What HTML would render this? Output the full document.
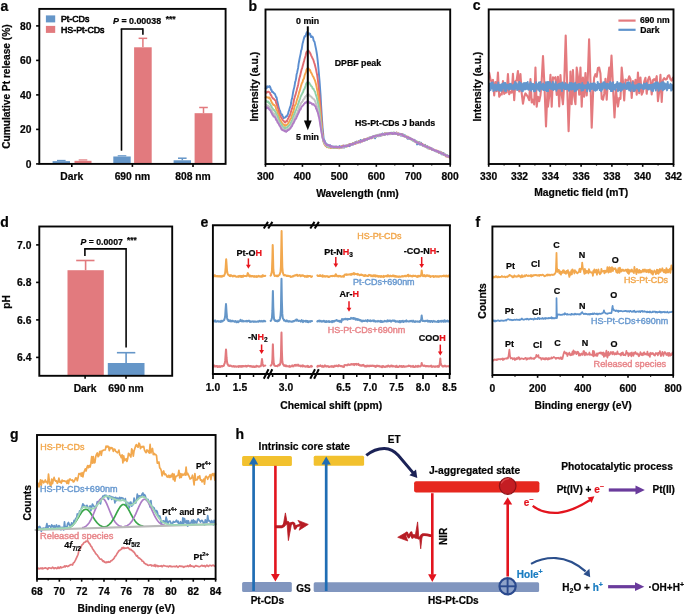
<!DOCTYPE html>
<html><head><meta charset="utf-8"><style>
html,body{margin:0;padding:0;background:#fff;width:685px;height:614px;overflow:hidden;position:relative;font-family:"Liberation Sans", sans-serif;}
svg{will-change:transform;}
</style></head><body>
<svg width="685" height="614" viewBox="0 0 685 614" style="position:absolute;left:0;top:0">
<g font-family='"Liberation Sans", sans-serif'>
<text x="0.50" y="10.50" font-size="14" font-weight="bold" fill="#050505"  stroke="#050505" stroke-width="0.22">a</text>
<rect x="52.60" y="161.14" width="17.40" height="2.76" fill="#6596c8" rx="0" />
<rect x="74.50" y="160.80" width="17.00" height="3.10" fill="#e27a7e" rx="0" />
<rect x="113.30" y="156.48" width="17.40" height="7.42" fill="#6596c8" rx="0" />
<rect x="134.10" y="47.29" width="17.60" height="116.61" fill="#e27a7e" rx="0" />
<line x1="142.90" y1="47.29" x2="142.90" y2="38.32" stroke="#e27a7e" stroke-width="1.5" stroke-linecap="butt"/>
<line x1="138.60" y1="38.32" x2="147.20" y2="38.32" stroke="#e27a7e" stroke-width="1.5" stroke-linecap="butt"/>
<rect x="173.60" y="160.28" width="17.40" height="3.62" fill="#6596c8" rx="0" />
<line x1="182.30" y1="160.28" x2="182.30" y2="158.21" stroke="#6596c8" stroke-width="1.5" stroke-linecap="butt"/>
<line x1="178.00" y1="158.21" x2="186.60" y2="158.21" stroke="#6596c8" stroke-width="1.5" stroke-linecap="butt"/>
<rect x="194.60" y="113.19" width="17.80" height="50.72" fill="#e27a7e" rx="0" />
<line x1="203.50" y1="113.19" x2="203.50" y2="107.49" stroke="#e27a7e" stroke-width="1.5" stroke-linecap="butt"/>
<line x1="199.20" y1="107.49" x2="207.80" y2="107.49" stroke="#e27a7e" stroke-width="1.5" stroke-linecap="butt"/>
<line x1="57.00" y1="160.45" x2="65.60" y2="160.45" stroke="#6596c8" stroke-width="1.2" stroke-linecap="butt"/>
<line x1="78.70" y1="159.93" x2="87.30" y2="159.93" stroke="#e27a7e" stroke-width="1.2" stroke-linecap="butt"/>
<line x1="117.70" y1="155.79" x2="126.30" y2="155.79" stroke="#6596c8" stroke-width="1.2" stroke-linecap="butt"/>
<rect x="39.30" y="8.90" width="186.30" height="155.00" fill="none" stroke="#050505" stroke-width="1.9"/>
<line x1="36.10" y1="163.90" x2="39.30" y2="163.90" stroke="#050505" stroke-width="1.6" stroke-linecap="butt"/>
<text x="31.40" y="167.70" font-size="10.3" font-weight="bold" fill="#050505" text-anchor="end"  stroke="#050505" stroke-width="0.22">0</text>
<line x1="36.10" y1="129.40" x2="39.30" y2="129.40" stroke="#050505" stroke-width="1.6" stroke-linecap="butt"/>
<text x="31.40" y="133.20" font-size="10.3" font-weight="bold" fill="#050505" text-anchor="end"  stroke="#050505" stroke-width="0.22">20</text>
<line x1="36.10" y1="94.90" x2="39.30" y2="94.90" stroke="#050505" stroke-width="1.6" stroke-linecap="butt"/>
<text x="31.40" y="98.70" font-size="10.3" font-weight="bold" fill="#050505" text-anchor="end"  stroke="#050505" stroke-width="0.22">40</text>
<line x1="36.10" y1="60.40" x2="39.30" y2="60.40" stroke="#050505" stroke-width="1.6" stroke-linecap="butt"/>
<text x="31.40" y="64.20" font-size="10.3" font-weight="bold" fill="#050505" text-anchor="end"  stroke="#050505" stroke-width="0.22">60</text>
<line x1="36.10" y1="25.90" x2="39.30" y2="25.90" stroke="#050505" stroke-width="1.6" stroke-linecap="butt"/>
<text x="31.40" y="29.70" font-size="10.3" font-weight="bold" fill="#050505" text-anchor="end"  stroke="#050505" stroke-width="0.22">80</text>
<line x1="71.80" y1="163.90" x2="71.80" y2="166.90" stroke="#050505" stroke-width="1.6" stroke-linecap="butt"/>
<text x="71.80" y="179.80" font-size="10.3" font-weight="bold" fill="#050505" text-anchor="middle"  stroke="#050505" stroke-width="0.22">Dark</text>
<line x1="132.40" y1="163.90" x2="132.40" y2="166.90" stroke="#050505" stroke-width="1.6" stroke-linecap="butt"/>
<text x="132.40" y="179.80" font-size="10.3" font-weight="bold" fill="#050505" text-anchor="middle"  stroke="#050505" stroke-width="0.22">690 nm</text>
<line x1="193.00" y1="163.90" x2="193.00" y2="166.90" stroke="#050505" stroke-width="1.6" stroke-linecap="butt"/>
<text x="193.00" y="179.80" font-size="10.3" font-weight="bold" fill="#050505" text-anchor="middle"  stroke="#050505" stroke-width="0.22">808 nm</text>
<text x="9.80" y="86.60" font-size="10.2" font-weight="bold" fill="#050505" text-anchor="middle" transform="rotate(-90 9.80 86.60)"  stroke="#050505" stroke-width="0.22">Cumulative Pt release (%)</text>
<rect x="45.90" y="15.40" width="9.30" height="7.00" fill="#6596c8" rx="0" />
<rect x="45.90" y="25.90" width="9.30" height="7.00" fill="#e27a7e" rx="0" />
<text x="61.00" y="22.40" font-size="8.8" font-weight="normal" fill="#050505" stroke="#050505" stroke-width="0.6" >Pt-CDs</text>
<text x="61.00" y="32.80" font-size="8.8" font-weight="normal" fill="#050505" stroke="#050505" stroke-width="0.6" >HS-Pt-CDs</text>
<line x1="121.50" y1="150.70" x2="121.50" y2="29.00" stroke="#050505" stroke-width="1.6" stroke-linecap="butt"/>
<line x1="120.70" y1="29.00" x2="142.90" y2="29.00" stroke="#050505" stroke-width="1.6" stroke-linecap="butt"/>
<line x1="142.90" y1="28.20" x2="142.90" y2="34.70" stroke="#050505" stroke-width="1.6" stroke-linecap="butt"/>
<text x="113.0" y="23.6" font-size="8.9" font-weight="bold" fill="#050505" stroke="#050505" stroke-width="0.22"><tspan font-style="italic">P</tspan> = 0.00038<tspan font-size="8.6" dy="-1.6" dx="4.5">***</tspan></text>
<text x="248.60" y="10.70" font-size="14" font-weight="bold" fill="#050505"  stroke="#050505" stroke-width="0.22">b</text>
<polyline points="265.60,88.27 266.10,87.42 266.60,88.17 267.10,86.28 267.60,87.27 268.10,86.49 268.60,86.68 269.10,87.19 269.60,86.08 270.10,86.85 270.60,88.13 271.10,90.07 271.60,89.96 272.10,92.01 272.60,91.70 273.10,92.17 273.60,92.87 274.10,93.57 274.60,93.48 275.10,94.36 275.60,95.74 276.10,97.10 276.60,97.35 277.10,100.39 277.60,102.40 278.10,104.74 278.60,107.15 279.10,108.62 279.60,110.23 280.10,110.92 280.60,112.50 281.10,113.83 281.60,114.92 282.10,114.44 282.60,115.83 283.10,116.88 283.60,118.13 284.10,117.74 284.60,117.58 285.10,117.46 285.60,117.12 286.10,116.30 286.60,116.55 287.10,115.86 287.60,114.63 288.10,113.69 288.60,111.37 289.10,110.43 289.60,108.44 290.10,106.99 290.60,105.83 291.10,103.03 291.60,99.72 292.10,98.31 292.60,95.44 293.10,92.23 293.60,89.76 294.10,87.87 294.60,85.81 295.10,82.08 295.60,80.71 296.10,78.35 296.60,74.33 297.10,72.79 297.60,70.13 298.10,67.96 298.60,63.83 299.10,61.30 299.60,58.52 300.10,56.08 300.60,53.85 301.10,50.52 301.60,49.60 302.10,46.64 302.60,43.45 303.10,41.91 303.60,39.58 304.10,38.12 304.60,36.18 305.10,36.55 305.60,36.15 306.10,34.08 306.60,32.79 307.10,31.91 307.60,32.90 308.10,34.70 308.60,34.12 309.10,33.31 309.60,34.42 310.10,33.74 310.60,35.71 311.10,37.13 311.60,36.26 312.10,37.08 312.60,36.81 313.10,37.95 313.60,40.53 314.10,41.29 314.60,42.09 315.10,44.57 315.60,46.93 316.10,49.39 316.60,52.22 317.10,55.32 317.60,59.81 318.10,64.53 318.60,70.15 319.10,75.96 319.60,81.64 320.10,88.66 320.60,95.46 321.10,104.97 321.60,113.06 322.10,120.91 322.60,127.82 323.10,132.75 323.60,138.07 324.10,140.51 324.60,140.36 325.10,142.39 325.60,143.88 326.10,143.21 326.60,145.47 327.10,144.63 327.60,144.54 328.10,146.30 328.60,145.92 329.10,145.57 329.60,146.68 330.10,145.15 330.60,147.55 331.10,146.08 331.60,146.84 332.10,146.51 332.60,147.09 333.10,147.44 333.60,146.46 334.10,147.47 334.60,146.86 335.10,146.66 335.60,146.98 336.10,146.54 336.60,146.69 337.10,147.76 337.60,147.12 338.10,147.91 338.60,147.47 339.10,146.59 339.60,146.06 340.10,146.74 340.60,147.26 341.10,147.05 341.60,146.45 342.10,147.47 342.60,145.71 343.10,145.89 343.60,146.61 344.10,147.73 344.60,146.54 345.10,145.57 345.60,146.41 346.10,146.35 346.60,146.37 347.10,145.43 347.60,145.05 348.10,145.45 348.60,145.48 349.10,146.04 349.60,146.18 350.10,144.33 350.60,144.29 351.10,144.41 351.60,144.14 352.10,144.42 352.60,144.26 353.10,143.96 353.60,144.44 354.10,143.38 354.60,142.68 355.10,142.21 355.60,142.36 356.10,142.18 356.60,141.51 357.10,142.88 357.60,142.42 358.10,141.89 358.60,141.44 359.10,140.86 359.60,141.08 360.10,142.57 360.60,139.96 361.10,141.20 361.60,141.39 362.10,140.85 362.60,140.40 363.10,140.87 363.60,139.57 364.10,140.39 364.60,140.73 365.10,139.07 365.60,139.03 366.10,139.42 366.60,139.76 367.10,139.79 367.60,139.22 368.10,138.24 368.60,137.80 369.10,138.45 369.60,138.37 370.10,137.31 370.60,137.84 371.10,137.84 371.60,138.10 372.10,136.72 372.60,137.48 373.10,136.28 373.60,136.57 374.10,136.62 374.60,137.41 375.10,138.33 375.60,136.35 376.10,136.35 376.60,136.50 377.10,134.93 377.60,136.07 378.10,134.74 378.60,136.33 379.10,136.10 379.60,135.40 380.10,134.49 380.60,135.87 381.10,134.91 381.60,134.71 382.10,134.88 382.60,133.40 383.10,134.58 383.60,134.82 384.10,134.33 384.60,134.12 385.10,133.36 385.60,134.22 386.10,133.88 386.60,133.69 387.10,133.27 387.60,134.05 388.10,134.21 388.60,133.63 389.10,133.90 389.60,134.11 390.10,134.23 390.60,133.37 391.10,133.07 391.60,132.95 392.10,133.21 392.60,133.53 393.10,133.76 393.60,132.96 394.10,133.35 394.60,132.70 395.10,134.10 395.60,133.15 396.10,133.68 396.60,133.12 397.10,133.45 397.60,133.31 398.10,134.85 398.60,134.17 399.10,133.98 399.60,133.63 400.10,133.97 400.60,134.84 401.10,135.67 401.60,133.97 402.10,134.45 402.60,135.07 403.10,135.01 403.60,134.60 404.10,135.81 404.60,136.46 405.10,135.27 405.60,136.57 406.10,137.26 406.60,137.49 407.10,136.88 407.60,138.75 408.10,137.93 408.60,137.35 409.10,138.67 409.60,137.64 410.10,139.09 410.60,138.04 411.10,139.52 411.60,138.95 412.10,140.22 412.60,140.24 413.10,140.33 413.60,140.36 414.10,141.25 414.60,139.78 415.10,141.39 415.60,141.65 416.10,142.00 416.60,142.43 417.10,144.43 417.60,142.54 418.10,143.21 418.60,143.07 419.10,144.18 419.60,142.28 420.10,144.77 420.60,143.58 421.10,142.87 421.60,143.82 422.10,144.60 422.60,145.06 423.10,145.15 423.60,145.90 424.10,145.62 424.60,145.84 425.10,144.82 425.60,146.63 426.10,147.17 426.60,146.53 427.10,145.89 427.60,146.43 428.10,148.46 428.60,147.32 429.10,147.50 429.60,147.63 430.10,148.75 430.60,148.20 431.10,148.25 431.60,148.08 432.10,149.13 432.60,150.01 433.10,149.52 433.60,150.35 434.10,150.13 434.60,150.32 435.10,150.54 435.60,150.66 436.10,151.46 436.60,151.34 437.10,150.91 437.60,151.54 438.10,151.64 438.60,152.19 439.10,152.22 439.60,152.58 440.10,151.66 440.60,153.00 441.10,153.79 441.60,152.42 442.10,154.42 442.60,153.87 443.10,153.80 443.60,153.08 444.10,155.05 444.60,154.05 445.10,154.56 445.60,155.43 446.10,154.73 446.60,154.99 447.10,155.13 447.60,155.99 448.10,156.65 448.60,156.78 449.10,157.02 449.60,156.81 450.10,157.34" fill="none" stroke="#5b8ed0" stroke-width="1.9" stroke-linejoin="round" stroke-linecap="round" />
<polyline points="265.60,91.82 266.10,92.23 266.60,92.69 267.10,92.29 267.60,91.84 268.10,91.62 268.60,91.61 269.10,92.24 269.60,92.41 270.10,93.13 270.60,95.05 271.10,94.96 271.60,96.21 272.10,97.14 272.60,97.97 273.10,98.49 273.60,98.62 274.10,99.31 274.60,99.77 275.10,100.23 275.60,100.49 276.10,102.95 276.60,103.87 277.10,105.51 277.60,107.27 278.10,108.49 278.60,110.31 279.10,112.62 279.60,114.20 280.10,115.68 280.60,116.22 281.10,117.36 281.60,117.89 282.10,118.97 282.60,119.90 283.10,120.42 283.60,120.64 284.10,121.66 284.60,122.16 285.10,122.61 285.60,121.89 286.10,121.35 286.60,120.68 287.10,121.22 287.60,119.47 288.10,118.55 288.60,117.93 289.10,116.30 289.60,116.19 290.10,114.62 290.60,113.34 291.10,111.28 291.60,109.77 292.10,108.43 292.60,106.47 293.10,105.02 293.60,102.22 294.10,99.05 294.60,97.79 295.10,95.84 295.60,94.62 296.10,92.41 296.60,90.75 297.10,88.56 297.60,86.87 298.10,85.03 298.60,82.08 299.10,79.34 299.60,77.44 300.10,76.08 300.60,73.50 301.10,71.42 301.60,69.40 302.10,68.37 302.60,66.35 303.10,64.41 303.60,62.42 304.10,60.76 304.60,58.83 305.10,57.28 305.60,55.78 306.10,53.07 306.60,51.89 307.10,51.36 307.60,50.88 308.10,50.28 308.60,50.87 309.10,51.47 309.60,52.16 310.10,52.97 310.60,54.01 311.10,55.35 311.60,56.38 312.10,57.45 312.60,58.46 313.10,59.29 313.60,60.71 314.10,62.53 314.60,63.85 315.10,65.82 315.60,67.65 316.10,69.92 316.60,72.62 317.10,74.70 317.60,78.33 318.10,81.84 318.60,86.83 319.10,91.26 319.60,96.72 320.10,101.77 320.60,108.11 321.10,115.17 321.60,121.58 322.10,127.92 322.60,133.95 323.10,138.77 323.60,141.25 324.10,143.13 324.60,144.05 325.10,144.61 325.60,145.60 326.10,146.17 326.60,146.09 327.10,147.17 327.60,146.55 328.10,147.23 328.60,147.22 329.10,146.59 329.60,147.26 330.10,146.78 330.60,147.34 331.10,147.64 331.60,148.06 332.10,147.69 332.60,146.89 333.10,147.31 333.60,147.94 334.10,147.47 334.60,148.02 335.10,147.14 335.60,147.19 336.10,146.91 336.60,147.24 337.10,147.81 337.60,147.04 338.10,147.64 338.60,147.49 339.10,147.58 339.60,147.19 340.10,147.22 340.60,147.90 341.10,146.64 341.60,147.25 342.10,147.42 342.60,146.94 343.10,147.24 343.60,145.50 344.10,146.31 344.60,145.88 345.10,146.02 345.60,146.00 346.10,146.09 346.60,145.49 347.10,145.96 347.60,144.95 348.10,145.69 348.60,145.12 349.10,144.43 349.60,144.27 350.10,144.11 350.60,144.23 351.10,144.45 351.60,144.71 352.10,144.37 352.60,143.46 353.10,142.96 353.60,143.49 354.10,142.93 354.60,143.21 355.10,142.86 355.60,143.83 356.10,142.16 356.60,142.71 357.10,143.08 357.60,142.12 358.10,141.82 358.60,142.51 359.10,141.01 359.60,140.99 360.10,140.99 360.60,141.38 361.10,141.34 361.60,140.85 362.10,141.48 362.60,140.47 363.10,140.36 363.60,140.08 364.10,140.44 364.60,139.83 365.10,139.51 365.60,140.07 366.10,139.76 366.60,139.48 367.10,138.50 367.60,138.40 368.10,138.52 368.60,138.35 369.10,138.12 369.60,138.02 370.10,138.16 370.60,137.42 371.10,137.70 371.60,137.31 372.10,137.11 372.60,137.02 373.10,137.22 373.60,136.90 374.10,136.36 374.60,136.60 375.10,136.37 375.60,136.32 376.10,135.94 376.60,136.24 377.10,135.87 377.60,135.19 378.10,135.02 378.60,134.85 379.10,135.36 379.60,134.85 380.10,134.85 380.60,134.83 381.10,135.18 381.60,135.41 382.10,134.49 382.60,135.12 383.10,134.51 383.60,134.65 384.10,134.03 384.60,133.59 385.10,134.10 385.60,134.29 386.10,133.21 386.60,133.66 387.10,133.69 387.60,133.74 388.10,133.07 388.60,133.20 389.10,133.68 389.60,133.95 390.10,133.31 390.60,133.58 391.10,133.26 391.60,133.35 392.10,133.06 392.60,133.12 393.10,133.00 393.60,133.25 394.10,133.64 394.60,133.36 395.10,133.57 395.60,133.15 396.10,133.72 396.60,132.44 397.10,133.13 397.60,133.60 398.10,133.19 398.60,134.15 399.10,134.15 399.60,133.88 400.10,134.36 400.60,133.97 401.10,134.34 401.60,134.69 402.10,134.43 402.60,135.54 403.10,135.15 403.60,135.95 404.10,135.74 404.60,136.11 405.10,135.90 405.60,136.34 406.10,136.53 406.60,136.99 407.10,137.62 407.60,137.17 408.10,137.54 408.60,137.96 409.10,138.38 409.60,138.27 410.10,138.41 410.60,138.59 411.10,139.05 411.60,139.38 412.10,139.30 412.60,139.69 413.10,140.33 413.60,140.32 414.10,140.39 414.60,141.11 415.10,141.38 415.60,141.61 416.10,141.90 416.60,141.80 417.10,142.28 417.60,142.58 418.10,142.77 418.60,142.37 419.10,143.23 419.60,143.62 420.10,143.92 420.60,143.88 421.10,144.24 421.60,143.84 422.10,144.19 422.60,143.91 423.10,145.10 423.60,145.98 424.10,146.26 424.60,145.48 425.10,146.34 425.60,146.77 426.10,146.45 426.60,146.10 427.10,147.51 427.60,147.11 428.10,147.32 428.60,148.28 429.10,148.07 429.60,148.42 430.10,148.91 430.60,148.51 431.10,148.43 431.60,149.26 432.10,149.20 432.60,149.67 433.10,149.76 433.60,149.56 434.10,150.04 434.60,150.12 435.10,150.36 435.60,150.64 436.10,150.98 436.60,151.14 437.10,150.83 437.60,151.70 438.10,151.19 438.60,152.69 439.10,151.86 439.60,152.32 440.10,153.03 440.60,152.72 441.10,152.57 441.60,152.75 442.10,153.58 442.60,153.85 443.10,154.23 443.60,154.27 444.10,154.24 444.60,154.81 445.10,155.39 445.60,154.84 446.10,156.61 446.60,155.45 447.10,156.27 447.60,156.74 448.10,156.63 448.60,156.66 449.10,157.04 449.60,157.50 450.10,156.34" fill="none" stroke="#e06a70" stroke-width="1.9" stroke-linejoin="round" stroke-linecap="round" />
<polyline points="265.60,97.48 266.10,97.18 266.60,97.07 267.10,97.38 267.60,97.45 268.10,97.62 268.60,97.37 269.10,98.23 269.60,97.56 270.10,98.73 270.60,99.56 271.10,101.05 271.60,101.92 272.10,103.19 272.60,103.45 273.10,104.77 273.60,105.01 274.10,104.97 274.60,105.09 275.10,105.94 275.60,106.71 276.10,108.81 276.60,109.96 277.10,110.62 277.60,113.13 278.10,113.80 278.60,114.56 279.10,117.39 279.60,118.91 280.10,119.57 280.60,120.16 281.10,121.78 281.60,121.94 282.10,122.87 282.60,123.71 283.10,124.28 283.60,124.59 284.10,124.89 284.60,125.85 285.10,124.95 285.60,125.67 286.10,125.38 286.60,125.19 287.10,124.46 287.60,124.13 288.10,123.70 288.60,122.34 289.10,121.93 289.60,121.19 290.10,119.66 290.60,118.69 291.10,118.38 291.60,116.86 292.10,114.79 292.60,113.74 293.10,111.95 293.60,110.59 294.10,108.84 294.60,106.06 295.10,105.39 295.60,104.59 296.10,103.26 296.60,100.98 297.10,99.23 297.60,98.12 298.10,96.06 298.60,94.48 299.10,92.26 299.60,91.15 300.10,89.30 300.60,87.63 301.10,85.60 301.60,83.98 302.10,82.76 302.60,81.99 303.10,79.74 303.60,79.10 304.10,77.99 304.60,75.56 305.10,74.07 305.60,72.88 306.10,71.34 306.60,69.47 307.10,68.63 307.60,68.21 308.10,68.09 308.60,68.71 309.10,69.17 309.60,70.22 310.10,69.96 310.60,71.84 311.10,72.65 311.60,73.30 312.10,74.50 312.60,75.68 313.10,76.44 313.60,77.33 314.10,78.67 314.60,79.59 315.10,80.81 315.60,82.64 316.10,84.57 316.60,86.99 317.10,89.47 317.60,91.81 318.10,95.15 318.60,98.13 319.10,101.89 319.60,106.08 320.10,110.43 320.60,115.54 321.10,121.71 321.60,126.22 322.10,131.83 322.60,136.22 323.10,140.06 323.60,141.86 324.10,143.70 324.60,144.20 325.10,145.26 325.60,144.89 326.10,146.19 326.60,146.60 327.10,146.02 327.60,147.06 328.10,146.53 328.60,147.40 329.10,147.16 329.60,147.49 330.10,147.46 330.60,146.96 331.10,147.96 331.60,147.86 332.10,147.09 332.60,147.65 333.10,147.61 333.60,147.20 334.10,147.07 334.60,147.88 335.10,147.29 335.60,147.74 336.10,148.09 336.60,147.59 337.10,147.10 337.60,147.75 338.10,146.92 338.60,147.06 339.10,148.37 339.60,147.05 340.10,147.38 340.60,146.83 341.10,147.09 341.60,147.10 342.10,146.01 342.60,146.60 343.10,146.94 343.60,146.89 344.10,146.58 344.60,146.01 345.10,146.36 345.60,145.93 346.10,145.71 346.60,145.84 347.10,146.50 347.60,145.25 348.10,145.78 348.60,145.35 349.10,144.59 349.60,144.63 350.10,144.74 350.60,144.47 351.10,144.57 351.60,143.97 352.10,143.80 352.60,144.34 353.10,143.81 353.60,143.36 354.10,143.50 354.60,143.97 355.10,142.96 355.60,142.48 356.10,143.16 356.60,143.35 357.10,142.94 357.60,141.87 358.10,141.44 358.60,142.43 359.10,141.76 359.60,141.83 360.10,141.42 360.60,141.89 361.10,141.16 361.60,140.85 362.10,140.83 362.60,140.18 363.10,140.48 363.60,140.21 364.10,139.32 364.60,139.48 365.10,139.27 365.60,138.98 366.10,139.47 366.60,139.57 367.10,139.10 367.60,138.30 368.10,138.02 368.60,138.75 369.10,138.20 369.60,138.10 370.10,137.51 370.60,137.09 371.10,138.41 371.60,137.26 372.10,137.24 372.60,136.74 373.10,137.52 373.60,136.70 374.10,136.60 374.60,136.51 375.10,136.34 375.60,136.69 376.10,135.40 376.60,136.11 377.10,135.53 377.60,135.46 378.10,135.26 378.60,135.50 379.10,134.77 379.60,134.90 380.10,135.16 380.60,134.66 381.10,134.58 381.60,134.77 382.10,134.56 382.60,134.30 383.10,134.33 383.60,133.90 384.10,134.42 384.60,133.64 385.10,133.36 385.60,133.97 386.10,133.29 386.60,133.34 387.10,133.52 387.60,133.77 388.10,133.27 388.60,133.23 389.10,133.19 389.60,133.43 390.10,133.08 390.60,133.30 391.10,133.65 391.60,133.10 392.10,133.05 392.60,132.85 393.10,132.91 393.60,132.76 394.10,132.85 394.60,133.07 395.10,133.43 395.60,133.53 396.10,133.29 396.60,133.64 397.10,133.15 397.60,134.42 398.10,134.67 398.60,133.89 399.10,134.23 399.60,134.21 400.10,134.58 400.60,134.25 401.10,134.11 401.60,135.09 402.10,134.59 402.60,135.28 403.10,135.04 403.60,135.30 404.10,136.12 404.60,136.54 405.10,136.14 405.60,136.28 406.10,136.76 406.60,136.69 407.10,136.51 407.60,137.33 408.10,136.80 408.60,137.96 409.10,137.87 409.60,138.35 410.10,138.01 410.60,138.51 411.10,139.22 411.60,139.75 412.10,139.81 412.60,139.91 413.10,139.65 413.60,140.50 414.10,140.62 414.60,140.73 415.10,141.56 415.60,141.10 416.10,142.26 416.60,141.68 417.10,141.94 417.60,142.41 418.10,142.24 418.60,142.79 419.10,143.24 419.60,142.88 420.10,143.43 420.60,143.48 421.10,144.05 421.60,144.84 422.10,144.53 422.60,144.86 423.10,145.23 423.60,145.00 424.10,145.70 424.60,145.67 425.10,145.86 425.60,145.71 426.10,146.31 426.60,147.12 427.10,147.41 427.60,147.11 428.10,147.46 428.60,147.51 429.10,147.49 429.60,147.47 430.10,148.91 430.60,148.19 431.10,148.82 431.60,149.50 432.10,149.04 432.60,149.33 433.10,149.68 433.60,149.67 434.10,150.09 434.60,150.09 435.10,150.81 435.60,150.79 436.10,150.42 436.60,150.57 437.10,151.02 437.60,151.24 438.10,151.41 438.60,152.21 439.10,151.85 439.60,152.16 440.10,152.59 440.60,152.07 441.10,153.15 441.60,153.43 442.10,153.94 442.60,153.34 443.10,153.76 443.60,154.23 444.10,154.26 444.60,154.12 445.10,155.18 445.60,155.00 446.10,155.46 446.60,155.20 447.10,156.15 447.60,155.94 448.10,156.05 448.60,156.81 449.10,157.16 449.60,156.69 450.10,157.60" fill="none" stroke="#f5a34a" stroke-width="1.9" stroke-linejoin="round" stroke-linecap="round" />
<polyline points="265.60,101.94 266.10,101.53 266.60,101.01 267.10,101.79 267.60,102.10 268.10,101.56 268.60,102.77 269.10,102.50 269.60,103.06 270.10,104.22 270.60,104.76 271.10,106.08 271.60,106.67 272.10,107.75 272.60,108.41 273.10,109.16 273.60,109.79 274.10,110.22 274.60,110.47 275.10,111.52 275.60,111.95 276.10,113.35 276.60,114.30 277.10,115.27 277.60,116.31 278.10,117.86 278.60,119.60 279.10,120.54 279.60,122.02 280.10,122.64 280.60,123.43 281.10,124.11 281.60,124.40 282.10,125.88 282.60,126.38 283.10,126.91 283.60,127.69 284.10,127.50 284.60,128.72 285.10,127.76 285.60,128.27 286.10,127.58 286.60,127.69 287.10,127.86 287.60,126.52 288.10,126.61 288.60,126.03 289.10,125.44 289.60,124.79 290.10,124.22 290.60,123.24 291.10,122.24 291.60,121.34 292.10,120.06 292.60,118.51 293.10,116.76 293.60,116.09 294.10,114.35 294.60,113.81 295.10,111.86 295.60,110.48 296.10,110.11 296.60,108.21 297.10,106.67 297.60,106.22 298.10,103.83 298.60,103.28 299.10,100.97 299.60,99.98 300.10,98.48 300.60,96.46 301.10,95.90 301.60,94.63 302.10,93.73 302.60,92.78 303.10,92.02 303.60,90.24 304.10,89.16 304.60,88.75 305.10,87.03 305.60,85.82 306.10,83.84 306.60,82.83 307.10,82.33 307.60,82.06 308.10,82.35 308.60,83.45 309.10,82.56 309.60,83.45 310.10,84.45 310.60,85.01 311.10,86.03 311.60,86.29 312.10,86.84 312.60,88.61 313.10,88.75 313.60,88.95 314.10,90.12 314.60,91.21 315.10,91.88 315.60,94.03 316.10,95.37 316.60,96.90 317.10,98.67 317.60,101.55 318.10,103.30 318.60,105.87 319.10,108.60 319.60,112.49 320.10,116.87 320.60,121.21 321.10,124.80 321.60,129.07 322.10,133.67 322.60,137.15 323.10,140.20 323.60,141.47 324.10,142.97 324.60,143.13 325.10,144.00 325.60,144.78 326.10,145.26 326.60,145.94 327.10,146.45 327.60,145.75 328.10,147.03 328.60,146.35 329.10,146.61 329.60,147.28 330.10,146.15 330.60,146.57 331.10,146.86 331.60,147.22 332.10,147.60 332.60,147.62 333.10,146.94 333.60,147.52 334.10,147.12 334.60,147.80 335.10,147.19 335.60,147.67 336.10,146.95 336.60,147.58 337.10,146.84 337.60,147.36 338.10,146.75 338.60,147.25 339.10,147.00 339.60,146.92 340.10,147.28 340.60,147.42 341.10,147.12 341.60,147.09 342.10,147.14 342.60,147.21 343.10,147.02 343.60,146.69 344.10,147.13 344.60,146.13 345.10,146.46 345.60,145.66 346.10,146.78 346.60,145.72 347.10,145.73 347.60,146.01 348.10,145.31 348.60,144.93 349.10,144.43 349.60,144.82 350.10,145.48 350.60,144.66 351.10,145.05 351.60,144.57 352.10,143.96 352.60,143.46 353.10,143.72 353.60,143.84 354.10,143.39 354.60,143.36 355.10,143.34 355.60,142.84 356.10,142.29 356.60,142.52 357.10,142.66 357.60,142.01 358.10,141.75 358.60,141.60 359.10,141.70 359.60,141.57 360.10,141.43 360.60,140.83 361.10,141.11 361.60,140.70 362.10,140.41 362.60,139.92 363.10,140.00 363.60,139.99 364.10,140.08 364.60,139.99 365.10,139.68 365.60,139.57 366.10,138.92 366.60,139.42 367.10,139.25 367.60,139.03 368.10,138.44 368.60,138.42 369.10,138.12 369.60,137.65 370.10,137.83 370.60,137.24 371.10,137.00 371.60,137.65 372.10,137.48 372.60,137.42 373.10,136.81 373.60,136.81 374.10,136.83 374.60,136.35 375.10,135.61 375.60,136.96 376.10,136.47 376.60,136.32 377.10,135.77 377.60,135.32 378.10,135.50 378.60,135.44 379.10,134.74 379.60,134.93 380.10,135.16 380.60,135.39 381.10,134.96 381.60,134.50 382.10,134.08 382.60,135.13 383.10,134.36 383.60,134.49 384.10,134.14 384.60,133.56 385.10,134.69 385.60,134.07 386.10,134.19 386.60,133.41 387.10,133.60 387.60,134.01 388.10,133.33 388.60,133.14 389.10,132.96 389.60,132.84 390.10,133.56 390.60,133.21 391.10,132.57 391.60,133.73 392.10,133.64 392.60,133.60 393.10,132.55 393.60,133.25 394.10,133.71 394.60,132.93 395.10,133.06 395.60,133.30 396.10,132.76 396.60,133.62 397.10,133.98 397.60,133.95 398.10,134.35 398.60,133.99 399.10,134.07 399.60,134.13 400.10,134.09 400.60,134.12 401.10,134.40 401.60,134.80 402.10,134.81 402.60,135.21 403.10,135.41 403.60,135.81 404.10,135.62 404.60,135.28 405.10,135.88 405.60,137.12 406.10,136.94 406.60,136.76 407.10,137.06 407.60,137.33 408.10,137.44 408.60,137.91 409.10,138.31 409.60,138.74 410.10,138.42 410.60,138.70 411.10,138.93 411.60,139.31 412.10,139.92 412.60,139.53 413.10,140.84 413.60,140.52 414.10,140.98 414.60,140.55 415.10,141.00 415.60,141.21 416.10,141.68 416.60,141.22 417.10,142.38 417.60,141.88 418.10,142.86 418.60,143.34 419.10,143.22 419.60,143.44 420.10,143.69 420.60,143.92 421.10,144.33 421.60,144.80 422.10,144.95 422.60,145.49 423.10,145.23 423.60,145.25 424.10,145.50 424.60,145.46 425.10,145.99 425.60,146.15 426.10,147.21 426.60,146.99 427.10,147.66 427.60,146.59 428.10,147.59 428.60,148.07 429.10,148.04 429.60,147.99 430.10,148.43 430.60,148.62 431.10,148.85 431.60,149.11 432.10,149.56 432.60,149.52 433.10,149.75 433.60,149.86 434.10,150.22 434.60,150.02 435.10,150.67 435.60,150.57 436.10,151.18 436.60,150.89 437.10,151.28 437.60,151.45 438.10,151.37 438.60,152.30 439.10,152.28 439.60,152.38 440.10,153.02 440.60,152.70 441.10,153.04 441.60,153.66 442.10,154.36 442.60,153.76 443.10,154.53 443.60,154.26 444.10,154.16 444.60,154.85 445.10,155.34 445.60,155.22 446.10,155.55 446.60,155.25 447.10,155.07 447.60,156.18 448.10,155.83 448.60,156.54 449.10,156.57 449.60,157.08 450.10,157.57" fill="none" stroke="#8fd1a7" stroke-width="1.9" stroke-linejoin="round" stroke-linecap="round" />
<polyline points="265.60,104.29 266.10,104.94 266.60,105.05 267.10,105.72 267.60,105.49 268.10,105.46 268.60,105.94 269.10,107.26 269.60,106.91 270.10,107.94 270.60,108.80 271.10,109.20 271.60,110.31 272.10,110.86 272.60,112.08 273.10,113.37 273.60,113.79 274.10,113.57 274.60,115.25 275.10,114.85 275.60,115.67 276.10,117.37 276.60,117.98 277.10,118.88 277.60,120.56 278.10,121.17 278.60,122.41 279.10,123.20 279.60,124.35 280.10,125.25 280.60,126.48 281.10,126.64 281.60,127.47 282.10,127.41 282.60,128.10 283.10,129.42 283.60,129.47 284.10,129.82 284.60,130.38 285.10,130.19 285.60,130.31 286.10,130.06 286.60,129.28 287.10,129.93 287.60,129.90 288.10,129.41 288.60,128.59 289.10,128.17 289.60,127.67 290.10,127.44 290.60,126.62 291.10,125.31 291.60,124.48 292.10,123.45 292.60,122.26 293.10,121.12 293.60,120.18 294.10,118.29 294.60,118.24 295.10,116.96 295.60,115.71 296.10,115.06 296.60,113.80 297.10,113.38 297.60,111.38 298.10,110.52 298.60,109.32 299.10,107.62 299.60,106.27 300.10,105.66 300.60,104.36 301.10,103.21 301.60,102.13 302.10,101.98 302.60,101.45 303.10,99.91 303.60,99.48 304.10,98.92 304.60,98.13 305.10,96.83 305.60,96.47 306.10,95.77 306.60,95.72 307.10,94.40 307.60,94.44 308.10,94.45 308.60,94.69 309.10,94.54 309.60,95.43 310.10,96.29 310.60,96.10 311.10,96.77 311.60,96.90 312.10,97.73 312.60,98.19 313.10,98.72 313.60,98.81 314.10,99.38 314.60,100.07 315.10,101.27 315.60,102.33 316.10,104.29 316.60,104.71 317.10,106.71 317.60,108.00 318.10,109.93 318.60,112.68 319.10,115.01 319.60,118.04 320.10,120.64 320.60,125.35 321.10,128.82 321.60,131.68 322.10,134.50 322.60,137.32 323.10,139.72 323.60,140.80 324.10,142.26 324.60,142.75 325.10,144.57 325.60,144.13 326.10,144.53 326.60,145.74 327.10,145.48 327.60,145.65 328.10,145.87 328.60,146.30 329.10,146.16 329.60,146.51 330.10,146.44 330.60,146.30 331.10,146.75 331.60,146.99 332.10,147.53 332.60,147.10 333.10,146.95 333.60,147.14 334.10,147.32 334.60,146.39 335.10,147.03 335.60,146.47 336.10,146.63 336.60,146.99 337.10,147.21 337.60,147.28 338.10,147.31 338.60,147.70 339.10,147.40 339.60,147.37 340.10,147.07 340.60,147.78 341.10,147.51 341.60,146.78 342.10,146.69 342.60,147.04 343.10,147.00 343.60,146.44 344.10,146.81 344.60,145.91 345.10,146.14 345.60,146.42 346.10,145.76 346.60,145.87 347.10,145.68 347.60,145.46 348.10,144.76 348.60,145.14 349.10,145.15 349.60,145.01 350.10,145.04 350.60,144.94 351.10,144.34 351.60,144.23 352.10,144.72 352.60,144.28 353.10,143.83 353.60,143.58 354.10,143.85 354.60,143.69 355.10,143.14 355.60,143.15 356.10,142.85 356.60,142.65 357.10,143.13 357.60,141.90 358.10,142.42 358.60,141.64 359.10,141.59 359.60,141.94 360.10,141.04 360.60,140.99 361.10,140.75 361.60,140.76 362.10,140.89 362.60,141.01 363.10,140.21 363.60,140.56 364.10,139.66 364.60,140.62 365.10,139.56 365.60,139.37 366.10,139.44 366.60,139.20 367.10,138.93 367.60,138.24 368.10,138.93 368.60,138.72 369.10,138.17 369.60,137.73 370.10,138.05 370.60,138.18 371.10,137.04 371.60,137.09 372.10,137.34 372.60,136.86 373.10,136.86 373.60,136.78 374.10,136.92 374.60,136.76 375.10,136.68 375.60,136.50 376.10,135.83 376.60,135.07 377.10,135.85 377.60,135.76 378.10,135.63 378.60,135.12 379.10,135.88 379.60,134.52 380.10,135.25 380.60,135.08 381.10,135.07 381.60,135.12 382.10,134.70 382.60,134.54 383.10,134.22 383.60,134.48 384.10,134.26 384.60,134.30 385.10,133.54 385.60,133.31 386.10,133.78 386.60,133.86 387.10,133.08 387.60,133.18 388.10,133.34 388.60,133.49 389.10,133.46 389.60,133.65 390.10,133.22 390.60,133.38 391.10,133.64 391.60,133.11 392.10,133.97 392.60,133.07 393.10,133.24 393.60,132.57 394.10,133.23 394.60,133.12 395.10,133.12 395.60,133.48 396.10,133.09 396.60,133.63 397.10,132.95 397.60,133.55 398.10,134.30 398.60,134.00 399.10,134.29 399.60,133.89 400.10,133.89 400.60,134.97 401.10,135.01 401.60,135.13 402.10,135.00 402.60,135.58 403.10,135.24 403.60,135.83 404.10,136.02 404.60,135.70 405.10,136.70 405.60,136.49 406.10,136.96 406.60,136.40 407.10,136.73 407.60,137.22 408.10,137.78 408.60,138.24 409.10,138.20 409.60,138.27 410.10,138.75 410.60,138.72 411.10,139.11 411.60,139.43 412.10,139.31 412.60,139.94 413.10,139.57 413.60,140.05 414.10,140.82 414.60,140.64 415.10,141.30 415.60,141.48 416.10,141.60 416.60,142.45 417.10,142.37 417.60,142.27 418.10,142.55 418.60,143.03 419.10,142.73 419.60,143.89 420.10,143.72 420.60,143.40 421.10,143.89 421.60,144.95 422.10,144.79 422.60,145.69 423.10,145.19 423.60,145.57 424.10,146.31 424.60,146.60 425.10,145.79 425.60,146.63 426.10,146.20 426.60,146.62 427.10,146.41 427.60,147.43 428.10,147.11 428.60,147.41 429.10,148.56 429.60,148.42 430.10,148.28 430.60,147.94 431.10,148.87 431.60,148.20 432.10,148.88 432.60,149.63 433.10,149.89 433.60,149.87 434.10,150.30 434.60,150.29 435.10,150.17 435.60,150.65 436.10,151.44 436.60,151.03 437.10,151.36 437.60,151.65 438.10,151.21 438.60,151.55 439.10,151.57 439.60,152.45 440.10,152.42 440.60,152.35 441.10,152.57 441.60,153.48 442.10,153.74 442.60,153.83 443.10,153.93 443.60,154.33 444.10,154.40 444.60,154.75 445.10,154.72 445.60,154.75 446.10,155.08 446.60,155.66 447.10,156.39 447.60,155.76 448.10,155.91 448.60,156.77 449.10,157.02 449.60,156.76 450.10,157.04" fill="none" stroke="#c2c2c2" stroke-width="1.9" stroke-linejoin="round" stroke-linecap="round" />
<polyline points="265.60,106.78 266.10,107.25 266.60,108.34 267.10,107.23 267.60,107.84 268.10,107.91 268.60,108.59 269.10,109.24 269.60,109.82 270.10,110.06 270.60,110.81 271.10,112.32 271.60,113.06 272.10,113.99 272.60,115.01 273.10,115.34 273.60,116.63 274.10,116.47 274.60,116.90 275.10,117.46 275.60,118.39 276.10,120.05 276.60,120.07 277.10,121.16 277.60,122.64 278.10,123.06 278.60,123.71 279.10,124.92 279.60,125.86 280.10,126.25 280.60,127.51 281.10,128.36 281.60,129.67 282.10,129.83 282.60,130.10 283.10,130.30 283.60,130.60 284.10,130.52 284.60,131.28 285.10,130.68 285.60,131.40 286.10,131.93 286.60,131.08 287.10,131.13 287.60,130.40 288.10,129.73 288.60,130.10 289.10,129.50 289.60,129.28 290.10,128.63 290.60,128.18 291.10,127.13 291.60,126.67 292.10,125.95 292.60,124.48 293.10,123.57 293.60,123.08 294.10,121.94 294.60,120.80 295.10,119.46 295.60,119.00 296.10,118.70 296.60,117.08 297.10,116.17 297.60,114.84 298.10,113.96 298.60,112.82 299.10,111.76 299.60,110.36 300.10,109.20 300.60,109.41 301.10,107.92 301.60,106.80 302.10,106.31 302.60,105.85 303.10,105.41 303.60,104.56 304.10,103.85 304.60,103.68 305.10,102.61 305.60,102.35 306.10,102.66 306.60,101.89 307.10,101.48 307.60,101.15 308.10,101.07 308.60,101.83 309.10,102.11 309.60,103.02 310.10,102.44 310.60,103.00 311.10,103.15 311.60,103.24 312.10,104.43 312.60,104.50 313.10,104.29 313.60,104.02 314.10,104.99 314.60,105.62 315.10,105.99 315.60,106.58 316.10,108.81 316.60,108.94 317.10,111.14 317.60,112.02 318.10,113.76 318.60,116.11 319.10,117.56 319.60,120.50 320.10,123.52 320.60,126.91 321.10,129.97 321.60,133.02 322.10,135.09 322.60,137.99 323.10,139.12 323.60,140.63 324.10,140.87 324.60,142.24 325.10,143.15 325.60,143.45 326.10,144.28 326.60,144.93 327.10,145.38 327.60,144.95 328.10,144.90 328.60,144.84 329.10,145.80 329.60,145.55 330.10,146.45 330.60,145.73 331.10,146.95 331.60,146.70 332.10,146.21 332.60,146.91 333.10,147.06 333.60,147.10 334.10,146.95 334.60,147.21 335.10,147.21 335.60,146.95 336.10,147.13 336.60,146.67 337.10,147.41 337.60,146.72 338.10,147.11 338.60,146.76 339.10,147.48 339.60,147.21 340.10,146.74 340.60,147.14 341.10,146.91 341.60,147.12 342.10,146.82 342.60,146.69 343.10,146.51 343.60,145.91 344.10,146.52 344.60,146.49 345.10,145.78 345.60,146.17 346.10,146.28 346.60,146.06 347.10,146.06 347.60,145.79 348.10,145.20 348.60,145.94 349.10,145.06 349.60,144.69 350.10,145.24 350.60,144.34 351.10,144.72 351.60,144.00 352.10,144.51 352.60,144.39 353.10,143.63 353.60,143.82 354.10,143.71 354.60,143.27 355.10,143.31 355.60,142.93 356.10,142.58 356.60,142.30 357.10,142.57 357.60,142.49 358.10,142.42 358.60,142.14 359.10,142.04 359.60,141.52 360.10,142.07 360.60,141.02 361.10,141.39 361.60,140.90 362.10,140.68 362.60,141.31 363.10,140.61 363.60,139.86 364.10,140.20 364.60,139.75 365.10,140.36 365.60,139.27 366.10,139.39 366.60,139.01 367.10,138.81 367.60,139.08 368.10,139.05 368.60,138.92 369.10,138.29 369.60,137.96 370.10,138.18 370.60,137.69 371.10,138.20 371.60,137.03 372.10,137.49 372.60,136.75 373.10,136.67 373.60,136.30 374.10,136.24 374.60,136.70 375.10,136.12 375.60,135.84 376.10,135.64 376.60,135.59 377.10,135.61 377.60,135.91 378.10,135.49 378.60,135.34 379.10,135.19 379.60,135.34 380.10,134.66 380.60,134.97 381.10,134.37 381.60,134.28 382.10,134.75 382.60,134.44 383.10,134.25 383.60,133.89 384.10,134.28 384.60,134.77 385.10,134.12 385.60,134.03 386.10,133.73 386.60,134.09 387.10,133.48 387.60,134.54 388.10,133.55 388.60,133.43 389.10,133.78 389.60,132.95 390.10,133.05 390.60,132.99 391.10,133.13 391.60,133.81 392.10,132.89 392.60,134.05 393.10,133.54 393.60,133.76 394.10,133.35 394.60,132.79 395.10,132.94 395.60,133.84 396.10,133.37 396.60,133.69 397.10,133.75 397.60,134.24 398.10,134.29 398.60,134.09 399.10,134.13 399.60,134.56 400.10,133.99 400.60,134.29 401.10,134.24 401.60,134.54 402.10,134.50 402.60,135.49 403.10,135.32 403.60,136.23 404.10,135.71 404.60,136.13 405.10,136.08 405.60,136.72 406.10,136.90 406.60,136.82 407.10,137.27 407.60,137.13 408.10,137.44 408.60,137.51 409.10,138.39 409.60,138.01 410.10,138.19 410.60,139.14 411.10,139.02 411.60,138.84 412.10,139.17 412.60,139.60 413.10,139.68 413.60,140.30 414.10,140.18 414.60,140.44 415.10,141.38 415.60,141.96 416.10,142.11 416.60,141.79 417.10,142.38 417.60,142.40 418.10,143.33 418.60,143.08 419.10,143.40 419.60,144.14 420.10,144.17 420.60,144.03 421.10,143.89 421.60,144.34 422.10,144.23 422.60,145.52 423.10,145.13 423.60,145.65 424.10,145.71 424.60,145.63 425.10,146.21 425.60,146.47 426.10,146.55 426.60,146.78 427.10,147.13 427.60,146.92 428.10,147.42 428.60,147.53 429.10,147.64 429.60,148.17 430.10,147.60 430.60,148.09 431.10,148.70 431.60,149.50 432.10,149.39 432.60,149.15 433.10,150.10 433.60,149.87 434.10,149.79 434.60,150.18 435.10,150.94 435.60,150.91 436.10,150.60 436.60,150.69 437.10,151.46 437.60,151.07 438.10,151.51 438.60,152.13 439.10,151.75 439.60,152.05 440.10,152.62 440.60,152.68 441.10,153.44 441.60,153.23 442.10,153.66 442.60,153.91 443.10,153.72 443.60,154.44 444.10,154.84 444.60,154.56 445.10,154.67 445.60,155.01 446.10,155.81 446.60,155.57 447.10,155.65 447.60,155.63 448.10,156.28 448.60,156.07 449.10,157.08 449.60,156.73 450.10,156.81" fill="none" stroke="#b07cc6" stroke-width="1.9" stroke-linejoin="round" stroke-linecap="round" />
<rect x="265.50" y="9.50" width="184.70" height="154.50" fill="none" stroke="#050505" stroke-width="1.9"/>
<line x1="265.50" y1="164.00" x2="265.50" y2="166.80" stroke="#050505" stroke-width="1.6" stroke-linecap="butt"/>
<text x="265.50" y="179.60" font-size="10.3" font-weight="bold" fill="#050505" text-anchor="middle"  stroke="#050505" stroke-width="0.22">300</text>
<line x1="302.44" y1="164.00" x2="302.44" y2="166.80" stroke="#050505" stroke-width="1.6" stroke-linecap="butt"/>
<text x="302.44" y="179.60" font-size="10.3" font-weight="bold" fill="#050505" text-anchor="middle"  stroke="#050505" stroke-width="0.22">400</text>
<line x1="339.38" y1="164.00" x2="339.38" y2="166.80" stroke="#050505" stroke-width="1.6" stroke-linecap="butt"/>
<text x="339.38" y="179.60" font-size="10.3" font-weight="bold" fill="#050505" text-anchor="middle"  stroke="#050505" stroke-width="0.22">500</text>
<line x1="376.32" y1="164.00" x2="376.32" y2="166.80" stroke="#050505" stroke-width="1.6" stroke-linecap="butt"/>
<text x="376.32" y="179.60" font-size="10.3" font-weight="bold" fill="#050505" text-anchor="middle"  stroke="#050505" stroke-width="0.22">600</text>
<line x1="413.26" y1="164.00" x2="413.26" y2="166.80" stroke="#050505" stroke-width="1.6" stroke-linecap="butt"/>
<text x="413.26" y="179.60" font-size="10.3" font-weight="bold" fill="#050505" text-anchor="middle"  stroke="#050505" stroke-width="0.22">700</text>
<line x1="450.20" y1="164.00" x2="450.20" y2="166.80" stroke="#050505" stroke-width="1.6" stroke-linecap="butt"/>
<text x="450.20" y="179.60" font-size="10.3" font-weight="bold" fill="#050505" text-anchor="middle"  stroke="#050505" stroke-width="0.22">800</text>
<line x1="283.97" y1="164.00" x2="283.97" y2="165.60" stroke="#050505" stroke-width="1.2" stroke-linecap="butt"/>
<line x1="320.91" y1="164.00" x2="320.91" y2="165.60" stroke="#050505" stroke-width="1.2" stroke-linecap="butt"/>
<line x1="357.85" y1="164.00" x2="357.85" y2="165.60" stroke="#050505" stroke-width="1.2" stroke-linecap="butt"/>
<line x1="394.79" y1="164.00" x2="394.79" y2="165.60" stroke="#050505" stroke-width="1.2" stroke-linecap="butt"/>
<line x1="431.73" y1="164.00" x2="431.73" y2="165.60" stroke="#050505" stroke-width="1.2" stroke-linecap="butt"/>
<text x="357.50" y="196.90" font-size="10.3" font-weight="bold" fill="#050505" text-anchor="middle"  stroke="#050505" stroke-width="0.22">Wavelength (nm)</text>
<text x="258.00" y="86.70" font-size="10.3" font-weight="bold" fill="#050505" text-anchor="middle" transform="rotate(-90 258.00 86.70)"  stroke="#050505" stroke-width="0.22">Intensity (a.u.)</text>
<line x1="307.80" y1="26.30" x2="307.80" y2="122.00" stroke="#050505" stroke-width="2.0" stroke-linecap="butt"/>
<path d="M303.9,120.5 L311.7,120.5 L307.8,130.3 Z" fill="#050505" stroke="none" stroke-width="1" />
<text x="307.60" y="24.00" font-size="8.8" font-weight="bold" fill="#050505" text-anchor="middle"  stroke="#050505" stroke-width="0.22">0 min</text>
<text x="307.50" y="140.20" font-size="8.8" font-weight="bold" fill="#050505" text-anchor="middle"  stroke="#050505" stroke-width="0.22">5 min</text>
<text x="334.70" y="65.80" font-size="8.8" font-weight="bold" fill="#050505"  stroke="#050505" stroke-width="0.22">DPBF peak</text>
<text x="355.00" y="125.80" font-size="8.8" font-weight="bold" fill="#050505"  stroke="#050505" stroke-width="0.22">HS-Pt-CDs J bands</text>
<text x="472.80" y="10.30" font-size="14" font-weight="bold" fill="#050505"  stroke="#050505" stroke-width="0.22">c</text>
<polyline points="489.20,72.80 490.45,79.54 491.70,81.92 492.95,79.86 494.20,95.44 495.45,82.09 496.70,91.10 497.95,72.45 499.20,96.70 500.45,94.40 501.70,94.54 502.95,81.16 504.20,93.88 505.45,92.54 506.70,92.44 507.95,74.11 509.20,94.15 510.45,91.78 511.70,92.61 512.95,73.70 514.20,100.18 515.45,81.25 516.70,79.97 517.95,70.94 519.20,91.35 520.45,74.12 521.70,93.33 522.95,103.69 524.20,96.87 525.45,93.39 526.70,95.18 527.95,97.00 529.20,100.18 530.45,79.16 531.70,102.45 532.95,99.63 534.20,104.40 535.45,67.60 536.70,106.60 537.95,96.70 539.20,101.20 540.45,95.38 541.50,83.60 543.00,56.10 544.50,86.60 546.00,126.40 547.50,89.60 547.95,106.60 549.20,96.17 550.45,74.78 551.70,106.60 552.95,77.31 554.20,78.51 555.45,77.18 556.70,94.96 557.95,76.68 559.20,106.43 560.45,74.99 561.70,94.63 562.95,104.30 564.20,83.60 565.70,35.60 567.20,86.60 568.60,131.30 570.10,89.60 570.45,71.57 571.70,104.30 572.95,70.16 574.20,96.44 575.45,104.18 576.70,67.60 577.95,76.91 579.20,94.76 580.45,67.60 581.70,106.60 582.95,77.53 584.20,96.72 585.45,72.93 586.70,95.50 587.60,83.60 589.10,39.30 590.60,86.60 591.70,127.80 593.20,89.60 594.20,77.67 595.45,74.20 596.70,76.76 597.95,67.99 599.20,67.60 600.45,73.51 601.70,98.63 602.95,99.75 604.20,93.91 605.45,78.73 606.70,99.73 607.95,78.91 609.20,67.60 610.00,83.60 611.50,55.50 613.00,86.60 614.50,117.50 616.00,89.60 616.70,97.25 617.95,106.50 619.20,98.08 620.45,98.81 621.70,67.60 622.95,81.24 624.20,100.55 625.45,79.58 626.70,80.52 627.95,80.45 629.20,76.29 630.45,78.99 631.70,97.88 632.95,81.09 634.20,91.22 635.45,79.74 636.70,94.66 637.95,72.49 639.20,93.25 640.45,77.45 641.70,94.60 642.95,91.82 644.20,81.68 645.45,77.80 646.70,93.79 647.95,80.11 649.20,76.80 650.45,80.54 651.70,94.49 652.95,80.11 654.20,79.23 655.45,80.95 656.70,76.17 657.95,101.18 659.20,91.58 660.45,74.75 661.70,101.84 662.95,80.05 664.20,78.19 665.45,79.37 666.70,79.18 667.95,75.93 669.20,75.26 670.45,79.27 671.70,80.60 672.95,77.57" fill="none" stroke="#e47a7e" stroke-width="2.1" stroke-linejoin="round" stroke-linecap="round" />
<polyline points="489.20,91.23 489.90,83.65 490.60,90.17 491.30,82.73 492.00,88.20 492.70,82.38 493.40,91.09 494.10,84.84 494.80,89.77 495.50,84.38 496.20,90.47 496.90,85.30 497.60,89.65 498.30,82.55 499.00,90.45 499.70,85.01 500.40,90.80 501.10,84.54 501.80,90.71 502.50,83.61 503.20,88.38 503.90,82.76 504.60,90.71 505.30,82.88 506.00,91.27 506.70,84.48 507.40,88.65 508.10,84.87 508.80,89.74 509.50,83.96 510.20,89.08 510.90,83.74 511.60,88.79 512.30,85.38 513.00,89.50 513.70,84.41 514.40,89.42 515.10,82.06 515.80,88.44 516.50,83.11 517.20,90.12 517.90,84.39 518.60,89.50 519.30,81.91 520.00,89.03 520.70,82.84 521.40,90.82 522.10,84.10 522.80,91.36 523.50,83.15 524.20,89.60 524.90,82.83 525.60,89.33 526.30,82.84 527.00,88.79 527.70,82.06 528.40,89.75 529.10,84.53 529.80,89.37 530.50,82.18 531.20,90.71 531.90,83.66 532.60,89.07 533.30,84.05 534.00,91.33 534.70,85.00 535.40,91.00 536.10,82.31 536.80,88.61 537.50,84.14 538.20,89.85 538.90,82.51 539.60,91.22 540.30,81.83 541.00,88.81 541.70,84.71 542.40,89.56 543.10,83.39 543.80,90.16 544.50,85.01 545.20,90.13 545.90,82.08 546.60,91.09 547.30,82.00 548.00,91.12 548.70,81.94 549.40,87.98 550.10,82.10 550.80,88.78 551.50,84.25 552.20,89.45 552.90,81.96 553.60,89.98 554.30,84.13 555.00,89.15 555.70,82.14 556.40,90.76 557.10,84.90 557.80,88.70 558.50,84.06 559.20,88.58 559.90,83.37 560.60,88.61 561.30,83.33 562.00,91.17 562.70,82.34 563.40,88.16 564.10,84.66 564.80,89.29 565.50,83.07 566.20,89.19 566.90,84.49 567.60,89.04 568.30,84.67 569.00,90.90 569.70,82.89 570.40,89.28 571.10,82.88 571.80,89.67 572.50,83.51 573.20,89.12 573.90,83.64 574.60,91.35 575.30,82.58 576.00,90.78 576.70,84.95 577.40,89.62 578.10,84.08 578.80,88.12 579.50,83.98 580.20,88.07 580.90,84.56 581.60,90.68 582.30,82.93 583.00,90.31 583.70,85.11 584.40,88.39 585.10,85.32 585.80,88.15 586.50,85.04 587.20,91.26 587.90,82.18 588.60,88.54 589.30,84.49 590.00,91.26 590.70,83.35 591.40,89.13 592.10,83.72 592.80,88.78 593.50,83.30 594.20,90.41 594.90,83.54 595.60,90.75 596.30,84.99 597.00,89.97 597.70,81.84 598.40,88.34 599.10,83.62 599.80,90.07 600.50,84.18 601.20,91.27 601.90,83.65 602.60,89.52 603.30,82.15 604.00,87.86 604.70,82.27 605.40,88.26 606.10,84.03 606.80,89.56 607.50,83.68 608.20,87.94 608.90,84.26 609.60,89.08 610.30,81.96 611.00,91.10 611.70,83.30 612.40,91.16 613.10,82.29 613.80,89.15 614.50,84.98 615.20,89.99 615.90,84.24 616.60,87.84 617.30,81.87 618.00,91.29 618.70,83.47 619.40,90.03 620.10,82.99 620.80,91.14 621.50,83.72 622.20,89.90 622.90,84.58 623.60,88.67 624.30,83.52 625.00,88.63 625.70,85.29 626.40,89.13 627.10,82.70 627.80,88.80 628.50,82.29 629.20,90.33 629.90,83.05 630.60,91.01 631.30,85.13 632.00,88.44 632.70,82.13 633.40,91.07 634.10,85.12 634.80,90.59 635.50,85.34 636.20,88.29 636.90,85.00 637.60,88.86 638.30,84.00 639.00,91.08 639.70,83.83 640.40,88.25 641.10,84.42 641.80,87.82 642.50,85.30 643.20,89.35 643.90,83.56 644.60,88.70 645.30,84.03 646.00,88.17 646.70,83.03 647.40,89.21 648.10,84.82 648.80,89.59 649.50,84.65 650.20,88.85 650.90,84.95 651.60,90.61 652.30,84.39 653.00,91.24 653.70,83.94 654.40,88.36 655.10,82.86 655.80,90.44 656.50,82.23 657.20,88.27 657.90,82.56 658.60,90.90 659.30,84.30 660.00,89.44 660.70,83.17 661.40,88.68 662.10,82.26 662.80,90.32 663.50,82.32 664.20,89.42 664.90,83.53 665.60,88.50 666.30,84.27 667.00,90.43 667.70,81.95 668.40,88.35 669.10,85.22 669.80,88.04 670.50,83.83 671.20,90.65 671.90,84.59 672.60,89.52" fill="none" stroke="#6496cd" stroke-width="1.9" stroke-linejoin="round" stroke-linecap="round" />
<rect x="488.70" y="9.40" width="184.80" height="154.60" fill="none" stroke="#050505" stroke-width="1.9"/>
<line x1="488.70" y1="164.00" x2="488.70" y2="166.80" stroke="#050505" stroke-width="1.6" stroke-linecap="butt"/>
<text x="488.70" y="179.60" font-size="10.3" font-weight="bold" fill="#050505" text-anchor="middle"  stroke="#050505" stroke-width="0.22">330</text>
<line x1="519.50" y1="164.00" x2="519.50" y2="166.80" stroke="#050505" stroke-width="1.6" stroke-linecap="butt"/>
<text x="519.50" y="179.60" font-size="10.3" font-weight="bold" fill="#050505" text-anchor="middle"  stroke="#050505" stroke-width="0.22">332</text>
<line x1="550.30" y1="164.00" x2="550.30" y2="166.80" stroke="#050505" stroke-width="1.6" stroke-linecap="butt"/>
<text x="550.30" y="179.60" font-size="10.3" font-weight="bold" fill="#050505" text-anchor="middle"  stroke="#050505" stroke-width="0.22">334</text>
<line x1="581.10" y1="164.00" x2="581.10" y2="166.80" stroke="#050505" stroke-width="1.6" stroke-linecap="butt"/>
<text x="581.10" y="179.60" font-size="10.3" font-weight="bold" fill="#050505" text-anchor="middle"  stroke="#050505" stroke-width="0.22">336</text>
<line x1="611.90" y1="164.00" x2="611.90" y2="166.80" stroke="#050505" stroke-width="1.6" stroke-linecap="butt"/>
<text x="611.90" y="179.60" font-size="10.3" font-weight="bold" fill="#050505" text-anchor="middle"  stroke="#050505" stroke-width="0.22">338</text>
<line x1="642.70" y1="164.00" x2="642.70" y2="166.80" stroke="#050505" stroke-width="1.6" stroke-linecap="butt"/>
<text x="642.70" y="179.60" font-size="10.3" font-weight="bold" fill="#050505" text-anchor="middle"  stroke="#050505" stroke-width="0.22">340</text>
<line x1="673.50" y1="164.00" x2="673.50" y2="166.80" stroke="#050505" stroke-width="1.6" stroke-linecap="butt"/>
<text x="673.50" y="179.60" font-size="10.3" font-weight="bold" fill="#050505" text-anchor="middle"  stroke="#050505" stroke-width="0.22">342</text>
<line x1="504.10" y1="164.00" x2="504.10" y2="165.60" stroke="#050505" stroke-width="1.2" stroke-linecap="butt"/>
<line x1="534.90" y1="164.00" x2="534.90" y2="165.60" stroke="#050505" stroke-width="1.2" stroke-linecap="butt"/>
<line x1="565.70" y1="164.00" x2="565.70" y2="165.60" stroke="#050505" stroke-width="1.2" stroke-linecap="butt"/>
<line x1="596.50" y1="164.00" x2="596.50" y2="165.60" stroke="#050505" stroke-width="1.2" stroke-linecap="butt"/>
<line x1="627.30" y1="164.00" x2="627.30" y2="165.60" stroke="#050505" stroke-width="1.2" stroke-linecap="butt"/>
<line x1="658.10" y1="164.00" x2="658.10" y2="165.60" stroke="#050505" stroke-width="1.2" stroke-linecap="butt"/>
<text x="581.20" y="196.30" font-size="10.3" font-weight="bold" fill="#050505" text-anchor="middle"  stroke="#050505" stroke-width="0.22">Magnetic field (mT)</text>
<text x="481.00" y="86.60" font-size="10.3" font-weight="bold" fill="#050505" text-anchor="middle" transform="rotate(-90 481.00 86.60)"  stroke="#050505" stroke-width="0.22">Intensity (a.u.)</text>
<line x1="618.40" y1="20.60" x2="635.60" y2="20.60" stroke="#e47a7e" stroke-width="2.2" stroke-linecap="butt"/>
<line x1="618.40" y1="29.80" x2="635.60" y2="29.80" stroke="#5f93cc" stroke-width="2.2" stroke-linecap="butt"/>
<text x="640.00" y="23.40" font-size="8.6" font-weight="bold" fill="#050505"  stroke="#050505" stroke-width="0.22">690 nm</text>
<text x="640.30" y="32.60" font-size="8.6" font-weight="bold" fill="#050505"  stroke="#050505" stroke-width="0.22">Dark</text>
<text x="0.30" y="227.00" font-size="14" font-weight="bold" fill="#050505"  stroke="#050505" stroke-width="0.22">d</text>
<rect x="67.50" y="270.21" width="36.30" height="105.59" fill="#e27a7e" rx="0" />
<line x1="85.60" y1="270.21" x2="85.60" y2="260.50" stroke="#e27a7e" stroke-width="1.6" stroke-linecap="butt"/>
<line x1="76.20" y1="260.50" x2="94.50" y2="260.50" stroke="#e27a7e" stroke-width="1.6" stroke-linecap="butt"/>
<rect x="107.80" y="363.00" width="36.70" height="12.80" fill="#6596c8" rx="0" />
<line x1="126.10" y1="363.00" x2="126.10" y2="352.70" stroke="#6596c8" stroke-width="1.6" stroke-linecap="butt"/>
<line x1="116.90" y1="352.70" x2="135.30" y2="352.70" stroke="#6596c8" stroke-width="1.6" stroke-linecap="butt"/>
<rect x="39.30" y="226.50" width="132.90" height="149.30" fill="none" stroke="#050505" stroke-width="1.9"/>
<line x1="36.10" y1="244.90" x2="39.30" y2="244.90" stroke="#050505" stroke-width="1.6" stroke-linecap="butt"/>
<text x="31.40" y="248.70" font-size="10.3" font-weight="bold" fill="#050505" text-anchor="end"  stroke="#050505" stroke-width="0.22">7.0</text>
<line x1="36.10" y1="282.40" x2="39.30" y2="282.40" stroke="#050505" stroke-width="1.6" stroke-linecap="butt"/>
<text x="31.40" y="286.20" font-size="10.3" font-weight="bold" fill="#050505" text-anchor="end"  stroke="#050505" stroke-width="0.22">6.8</text>
<line x1="36.10" y1="319.90" x2="39.30" y2="319.90" stroke="#050505" stroke-width="1.6" stroke-linecap="butt"/>
<text x="31.40" y="323.70" font-size="10.3" font-weight="bold" fill="#050505" text-anchor="end"  stroke="#050505" stroke-width="0.22">6.6</text>
<line x1="36.10" y1="357.40" x2="39.30" y2="357.40" stroke="#050505" stroke-width="1.6" stroke-linecap="butt"/>
<text x="31.40" y="361.20" font-size="10.3" font-weight="bold" fill="#050505" text-anchor="end"  stroke="#050505" stroke-width="0.22">6.4</text>
<line x1="85.10" y1="375.80" x2="85.10" y2="378.80" stroke="#050505" stroke-width="1.6" stroke-linecap="butt"/>
<text x="85.10" y="391.60" font-size="10.3" font-weight="bold" fill="#050505" text-anchor="middle"  stroke="#050505" stroke-width="0.22">Dark</text>
<line x1="126.00" y1="375.80" x2="126.00" y2="378.80" stroke="#050505" stroke-width="1.6" stroke-linecap="butt"/>
<text x="126.00" y="391.60" font-size="10.3" font-weight="bold" fill="#050505" text-anchor="middle"  stroke="#050505" stroke-width="0.22">690 nm</text>
<text x="9.90" y="301.80" font-size="10.3" font-weight="bold" fill="#050505" text-anchor="middle" transform="rotate(-90 9.90 301.80)"  stroke="#050505" stroke-width="0.22">pH</text>
<line x1="84.90" y1="256.00" x2="84.90" y2="248.90" stroke="#050505" stroke-width="1.6" stroke-linecap="butt"/>
<line x1="84.10" y1="248.90" x2="126.10" y2="248.90" stroke="#050505" stroke-width="1.6" stroke-linecap="butt"/>
<line x1="126.10" y1="248.10" x2="126.10" y2="347.50" stroke="#050505" stroke-width="1.6" stroke-linecap="butt"/>
<text x="80.6" y="244.8" font-size="8.7" font-weight="bold" fill="#050505" stroke="#050505" stroke-width="0.22"><tspan font-style="italic">P</tspan> = 0.0007<tspan font-size="8.2" dy="-1.6" dx="4.2">***</tspan></text>
<text x="200.60" y="227.00" font-size="14" font-weight="bold" fill="#050505"  stroke="#050505" stroke-width="0.22">e</text>
<polyline points="213.50,276.59 213.95,275.92 214.40,275.89 214.85,275.17 215.30,276.14 215.75,276.07 216.20,276.04 216.65,276.38 217.10,276.45 217.55,275.96 218.00,276.05 218.45,276.21 218.90,276.63 219.35,276.58 219.80,275.92 220.25,275.96 220.70,276.58 221.15,276.83 221.60,276.20 222.05,275.89 222.50,276.41 222.95,275.77 223.40,275.94 223.85,275.94 224.30,275.15 224.75,274.11 225.20,272.54 225.65,267.59 226.10,259.99 226.20,259.32 226.55,264.17 227.00,270.49 227.45,273.19 227.90,274.22 228.35,274.92 228.80,275.21 229.25,275.48 229.70,276.00 230.15,275.07 230.60,276.15 231.05,275.68 231.50,275.40 231.95,275.84 232.40,276.00 232.85,276.40 233.30,275.71 233.75,276.22 234.20,276.24 234.65,275.66 235.10,275.88 235.55,276.55 236.00,276.62 236.45,276.79 236.90,276.62 237.35,276.58 237.80,276.49 238.25,276.87 238.70,276.15 239.15,276.38 239.60,276.54 240.05,275.82 240.50,276.80 240.95,276.02 241.40,276.23 241.85,276.97 242.30,275.87 242.75,275.93 243.20,276.61 243.65,275.64 244.10,275.82 244.55,276.11 245.00,276.04 245.45,276.05 245.90,275.92 246.35,276.17 246.80,275.89 247.25,275.22 247.70,273.30 247.80,273.14 248.15,273.82 248.60,275.67 249.05,275.09 249.50,276.17 249.95,276.60 250.40,275.65 250.85,275.84 251.30,275.97 251.75,276.48 252.20,275.94 252.65,276.25 253.10,276.15 253.55,276.28 254.00,276.86 254.45,276.09 254.90,276.47 255.35,276.55 255.80,276.76 256.25,276.02 256.70,276.84 257.15,276.58 257.60,276.71 258.05,276.40 258.50,275.76 258.95,276.07 259.40,276.54 259.85,276.21 260.30,276.14 260.75,276.73 261.20,276.83 261.65,276.00 262.10,276.64 262.55,275.23 263.00,275.17 263.45,276.16 263.90,275.75 264.35,276.02 264.80,275.99 265.25,275.77" fill="none" stroke="#f2a84e" stroke-width="2.0" stroke-linejoin="round" stroke-linecap="round" />
<polyline points="270.60,275.65 271.05,274.99 271.50,273.30 271.95,270.73 272.40,258.01 272.70,245.04 272.85,248.97 273.30,268.29 273.75,273.05 274.20,274.69 274.65,275.94 275.10,275.79 275.55,275.64 276.00,275.93 276.45,276.15 276.90,275.51 277.35,275.71 277.80,276.25 278.25,275.88 278.70,275.37 279.15,274.94 279.60,274.59 280.05,273.23 280.50,272.14 280.95,266.00 281.40,242.36 281.60,230.90 281.85,246.13 282.30,267.12 282.75,272.15 283.20,273.64 283.65,274.77 284.10,275.35 284.55,275.04 285.00,275.28 285.45,275.30 285.90,275.31 286.35,276.08 286.80,276.07 287.25,276.08 287.70,275.62 288.15,275.72 288.60,276.12 289.05,276.04 289.50,276.27 289.95,276.01 290.40,276.50 290.85,276.91 291.30,276.81 291.75,276.82 292.20,276.24 292.65,276.49 293.10,275.96 293.55,276.31 294.00,275.73 294.45,275.53 294.90,275.30 295.35,275.59 295.80,275.31 296.00,275.25 296.25,274.78 296.70,275.28 297.15,274.82 297.60,275.94 298.05,275.46 298.50,275.64 298.95,275.58 299.40,275.09 299.85,275.20 300.30,275.69 300.75,276.25 301.20,275.37 301.65,275.54 302.10,275.80 302.55,275.27 303.00,275.31 303.45,275.80 303.90,275.98 304.35,275.91 304.80,276.63 305.25,276.09 305.70,276.33 306.15,276.81 306.60,276.89 307.05,275.78 307.50,276.24 307.95,276.81 308.40,275.95 308.85,276.13 309.30,276.01 309.75,275.99 310.20,276.07 310.65,276.52 311.10,276.88 311.55,276.95 312.00,276.38" fill="none" stroke="#f2a84e" stroke-width="2.0" stroke-linejoin="round" stroke-linecap="round" />
<polyline points="317.30,275.23 317.75,275.88 318.20,275.77 318.65,276.01 319.10,275.84 319.55,275.27 320.00,276.06 320.45,275.22 320.90,275.73 321.35,276.12 321.80,276.17 322.25,276.65 322.70,275.32 323.15,276.31 323.60,276.48 324.05,276.17 324.50,276.55 324.95,275.98 325.40,276.63 325.85,276.62 326.30,276.11 326.75,276.24 327.20,276.42 327.65,276.26 328.10,276.85 328.55,276.53 329.00,276.91 329.45,276.84 329.90,276.42 330.35,276.29 330.80,275.98 331.25,275.99 331.70,275.94 332.15,276.29 332.60,275.81 333.05,276.09 333.50,276.08 333.95,275.77 334.40,275.80 334.85,276.23 335.30,275.90 335.75,274.16 335.80,274.34 336.20,275.02 336.65,275.53 337.10,276.31 337.55,276.08 338.00,276.32 338.45,276.54 338.90,275.81 339.35,275.94 339.80,276.06 340.25,276.46 340.70,276.11 341.15,276.42 341.60,276.65 342.05,276.70 342.50,276.49 342.95,276.10 343.40,275.86 343.85,276.83 344.30,275.14 344.75,274.62 345.20,274.73 345.65,274.71 346.10,274.23 346.55,274.85 347.00,274.42 347.45,274.53 347.90,274.82 348.35,274.46 348.80,274.61 349.25,274.50 349.70,274.30 350.15,274.24 350.60,274.81 351.05,274.04 351.50,274.62 351.95,273.69 352.40,274.23 352.85,274.01 353.30,273.69 353.75,273.01 354.20,274.51 354.65,273.56 355.10,273.66 355.55,274.08 356.00,274.11 356.45,274.25 356.90,274.13 357.35,273.78 357.80,274.69 358.25,274.16 358.70,274.65 359.15,274.87 359.60,275.18 360.05,274.79 360.50,274.85 360.95,274.97 361.40,274.50 361.85,274.96 362.30,274.95 362.75,274.97 363.20,275.50 363.65,275.39 364.10,276.10 364.55,276.10 365.00,274.95 365.45,275.68 365.90,275.30 366.35,275.86 366.80,275.72 367.25,275.99 367.70,275.77 368.15,275.92 368.60,275.54 369.05,274.76 369.50,275.21 369.95,275.32 370.40,275.45 370.85,275.27 371.30,276.20 371.75,275.58 372.20,276.10 372.65,275.55 373.10,276.28 373.55,275.31 374.00,275.98 374.45,275.35 374.90,276.01 375.35,276.47 375.80,275.39 376.25,275.72 376.70,276.16 377.15,276.07 377.60,275.71 378.05,276.65 378.50,276.31 378.95,276.79 379.40,276.49 379.85,276.01 380.30,276.27 380.75,276.94 381.20,275.99 381.65,276.31 382.10,276.68 382.55,276.82 383.00,276.73 383.45,275.90 383.90,277.12 384.35,276.29 384.80,276.31 385.25,276.26 385.70,276.14 386.15,275.83 386.60,276.01 387.05,276.55 387.50,275.56 387.95,275.15 388.40,276.16 388.85,276.06 389.30,276.18 389.75,276.51 390.20,275.64 390.65,275.96 391.10,276.08 391.55,276.35 392.00,276.30 392.45,275.67 392.90,275.52 393.35,275.94 393.80,275.52 394.25,276.51 394.70,276.03 395.15,276.09 395.60,275.95 396.05,276.84 396.50,276.45 396.95,276.25 397.40,276.64 397.85,276.42 398.30,276.68 398.75,276.95 399.20,276.40 399.65,276.68 400.10,276.66 400.55,276.87 401.00,276.66 401.45,276.44 401.90,276.17 402.35,276.46 402.80,275.95 403.25,276.50 403.70,276.24 404.15,276.36 404.60,275.94 405.05,275.80 405.50,275.72 405.95,276.39 406.40,275.89 406.85,275.86 407.30,275.29 407.75,275.88 408.20,274.68 408.65,276.37 409.10,275.82 409.55,275.93 410.00,275.44 410.45,275.58 410.90,276.21 411.35,275.97 411.80,276.23 412.25,276.57 412.70,276.40 413.15,275.55 413.60,275.92 414.05,275.91 414.50,276.03 414.95,275.65 415.40,275.69 415.85,276.18 416.30,276.25 416.75,276.65 417.20,276.35 417.65,276.95 418.10,275.80 418.55,275.92 419.00,276.45 419.45,276.20 419.90,275.84 420.35,276.27 420.80,275.97 421.25,274.65 421.70,270.58 421.70,270.71 422.15,274.18 422.60,275.42 423.05,276.09 423.50,275.66 423.95,276.00 424.40,275.10 424.85,276.14 425.30,276.44 425.75,275.86 426.20,276.23 426.65,275.29 427.10,275.77 427.55,275.36 428.00,276.04 428.45,276.14 428.90,275.52 429.35,275.74 429.80,275.88 430.25,276.98 430.70,276.15 431.15,276.26 431.60,276.40 432.05,276.42 432.50,276.27 432.95,275.93 433.40,276.19 433.85,277.03 434.30,276.56 434.75,276.36 435.20,276.02 435.65,276.47 436.10,276.50 436.55,276.24 437.00,276.76 437.45,276.21 437.90,276.32 438.35,276.64 438.80,276.38 439.25,276.65 439.70,276.13 440.15,276.01 440.60,276.28 441.05,276.15 441.50,276.45 441.95,276.14 442.40,275.95 442.85,276.09 443.30,276.15 443.75,275.51 444.20,275.85 444.65,275.78 445.10,276.33 445.55,275.76 446.00,276.32 446.45,275.54 446.90,275.99 447.35,276.43 447.80,276.00 448.25,276.54 448.70,275.48 449.15,276.24" fill="none" stroke="#f2a84e" stroke-width="2.0" stroke-linejoin="round" stroke-linecap="round" />
<polyline points="213.50,321.13 213.95,321.07 214.40,320.63 214.85,321.43 215.30,320.42 215.75,321.61 216.20,321.43 216.65,321.71 217.10,321.31 217.55,321.04 218.00,321.27 218.45,321.31 218.90,321.69 219.35,321.37 219.80,321.61 220.25,321.61 220.70,321.90 221.15,320.66 221.60,321.14 222.05,321.43 222.50,321.31 222.95,320.71 223.40,320.58 223.85,320.28 224.30,319.74 224.75,318.31 225.20,315.54 225.65,308.68 226.00,304.01 226.10,305.16 226.55,312.26 227.00,317.45 227.45,319.58 227.90,319.78 228.35,320.95 228.80,320.32 229.25,321.11 229.70,320.63 230.15,320.31 230.60,320.94 231.05,321.55 231.50,320.75 231.95,321.18 232.40,320.73 232.85,320.83 233.30,321.36 233.75,321.19 234.20,321.51 234.65,321.81 235.10,320.99 235.55,321.21 236.00,321.50 236.45,322.32 236.90,321.41 237.35,321.37 237.80,321.69 238.25,322.26 238.70,321.28 239.15,321.30 239.60,321.26 240.05,321.11 240.50,321.03 240.50,319.84 240.95,320.19 241.40,321.16 241.85,321.39 242.30,320.44 242.75,320.99 243.20,321.51 243.65,320.96 244.10,321.28 244.55,321.14 245.00,321.28 245.45,321.18 245.90,321.10 246.35,321.44 246.80,320.80 247.25,321.05 247.70,321.41 248.15,320.84 248.60,320.93 249.05,320.83 249.50,320.80 249.95,321.88 250.40,321.38 250.85,321.92 251.30,321.56 251.75,321.38 252.20,321.30 252.65,321.54 253.10,321.47 253.55,321.84 254.00,321.25 254.45,321.63 254.90,321.75 255.35,321.52 255.80,321.53 256.25,321.79 256.70,321.79 257.15,321.54 257.60,321.54 258.05,321.32 258.50,321.67 258.95,321.39 259.40,320.84 259.85,321.23 260.30,321.51 260.75,321.34 261.20,320.88 261.65,321.40 262.10,321.31 262.55,321.27 263.00,321.56 263.45,320.88 263.90,321.18 264.35,320.86 264.80,321.29 265.25,321.34" fill="none" stroke="#6596c8" stroke-width="2.0" stroke-linejoin="round" stroke-linecap="round" />
<polyline points="270.60,320.88 271.05,320.63 271.50,319.37 271.95,318.01 272.40,310.91 272.85,291.90 272.90,290.93 273.30,307.55 273.75,316.10 274.20,319.86 274.65,319.99 275.10,320.87 275.55,320.41 276.00,320.98 276.45,320.75 276.90,321.17 277.35,320.78 277.80,321.33 278.25,320.41 278.70,320.93 279.15,320.18 279.60,319.87 280.05,318.17 280.50,315.81 280.95,309.25 281.40,281.71 281.50,278.84 281.85,299.84 282.30,313.88 282.75,317.96 283.20,318.74 283.65,319.46 284.10,320.55 284.55,320.17 285.00,320.88 285.45,320.97 285.90,321.37 286.35,321.09 286.80,320.37 287.25,320.85 287.70,321.00 288.15,321.63 288.60,321.37 289.05,321.13 289.50,321.49 289.95,321.23 290.40,321.57 290.85,321.44 291.30,321.77 291.75,321.48 292.20,321.67 292.65,321.27 293.10,321.44 293.55,321.04 294.00,321.19 294.45,320.89 294.90,320.58 295.35,320.30 295.80,320.22 296.00,320.45 296.25,319.48 296.70,320.76 297.15,319.59 297.60,320.46 298.05,320.49 298.50,320.93 298.95,320.80 299.40,320.74 299.85,320.81 300.30,321.14 300.75,321.65 301.20,320.99 301.65,320.17 302.10,320.77 302.55,321.11 303.00,322.16 303.45,320.78 303.90,320.96 304.35,321.34 304.80,321.31 305.25,320.79 305.70,321.63 306.15,320.89 306.60,321.30 307.05,321.90 307.50,321.01 307.95,321.39 308.40,322.12 308.85,321.46 309.30,321.20 309.75,321.37 310.20,321.86 310.65,321.01 311.10,321.32 311.55,321.00 312.00,321.08" fill="none" stroke="#6596c8" stroke-width="2.0" stroke-linejoin="round" stroke-linecap="round" />
<polyline points="317.30,321.47 317.75,320.97 318.20,320.84 318.65,321.13 319.10,320.74 319.55,320.58 320.00,321.42 320.45,321.35 320.90,320.78 321.35,321.36 321.80,321.66 322.25,321.37 322.70,321.42 323.15,320.86 323.60,321.29 324.05,320.73 324.50,321.82 324.95,321.41 325.40,321.97 325.85,321.26 326.30,321.87 326.75,321.02 327.20,321.45 327.65,321.78 328.10,321.71 328.55,321.55 329.00,320.98 329.45,322.00 329.90,321.73 330.35,321.87 330.80,321.82 331.25,321.25 331.70,321.47 332.15,322.22 332.60,320.95 333.05,321.34 333.50,320.96 333.95,321.73 334.40,321.14 334.85,320.68 335.30,320.81 335.75,320.51 336.20,320.19 336.65,320.03 337.10,320.74 337.55,320.61 338.00,321.08 338.45,320.76 338.90,321.17 339.35,321.75 339.80,320.75 340.25,320.78 340.70,321.60 341.15,322.13 341.60,321.04 342.05,319.01 342.50,319.47 342.95,319.40 343.40,319.75 343.85,319.09 344.30,319.33 344.75,319.26 345.20,318.76 345.65,318.71 346.10,319.37 346.55,319.35 347.00,318.81 347.45,319.59 347.90,319.30 348.35,319.07 348.80,319.06 349.25,318.91 349.70,318.99 350.15,318.99 350.60,318.67 351.05,317.88 351.50,318.53 351.95,318.27 352.40,318.14 352.85,318.78 353.30,317.95 353.75,318.91 354.20,318.43 354.65,318.27 355.10,318.46 355.55,319.68 356.00,319.46 356.45,318.92 356.90,319.51 357.35,319.87 357.80,319.04 358.25,319.37 358.70,319.92 359.15,319.86 359.60,319.71 360.05,320.55 360.50,320.27 360.95,320.48 361.40,321.16 361.85,320.59 362.30,321.45 362.75,320.70 363.20,320.61 363.65,320.78 364.10,321.10 364.55,321.07 365.00,321.00 365.45,320.37 365.90,320.53 366.35,320.83 366.80,321.19 367.25,321.44 367.70,320.06 368.15,320.86 368.60,320.73 369.05,320.84 369.50,320.95 369.95,320.55 370.40,320.37 370.85,321.20 371.30,321.11 371.75,320.70 372.20,320.81 372.65,320.62 373.10,320.38 373.55,321.15 374.00,320.71 374.45,320.58 374.90,320.81 375.35,321.66 375.80,321.28 376.25,321.25 376.70,321.26 377.15,321.58 377.60,321.59 378.05,320.91 378.50,321.34 378.95,321.23 379.40,321.58 379.85,321.51 380.30,320.84 380.75,321.98 381.20,321.67 381.65,320.96 382.10,321.98 382.55,321.61 383.00,321.71 383.45,321.53 383.90,321.54 384.35,321.26 384.80,320.81 385.25,321.14 385.70,321.37 386.15,321.28 386.60,321.45 387.05,321.14 387.50,320.33 387.95,321.35 388.40,320.76 388.85,320.54 389.30,320.89 389.75,320.50 390.20,321.11 390.65,320.65 391.10,321.67 391.55,320.91 392.00,320.82 392.45,320.81 392.90,320.31 393.35,320.80 393.80,320.88 394.25,321.08 394.70,320.45 395.15,321.31 395.60,321.80 396.05,321.23 396.50,321.41 396.95,321.62 397.40,321.22 397.85,321.37 398.30,321.89 398.75,321.64 399.20,321.14 399.65,320.94 400.10,322.39 400.55,321.72 401.00,320.97 401.45,321.57 401.90,321.72 402.35,321.48 402.80,320.73 403.25,322.00 403.70,321.52 404.15,321.19 404.60,321.46 405.05,321.09 405.50,321.01 405.95,321.41 406.40,320.35 406.85,321.39 407.30,321.15 407.75,321.27 408.20,321.32 408.65,321.55 409.10,321.52 409.55,321.33 410.00,320.90 410.45,321.31 410.90,320.93 411.35,320.80 411.80,321.35 412.25,321.36 412.70,321.70 413.15,320.56 413.60,321.58 414.05,321.65 414.50,321.49 414.95,322.02 415.40,321.21 415.85,321.67 416.30,321.43 416.75,321.57 417.20,321.23 417.65,321.52 418.10,321.79 418.55,321.56 419.00,321.59 419.45,321.13 419.90,321.86 420.35,320.85 420.80,320.67 421.25,319.40 421.70,315.47 421.70,315.80 422.15,319.17 422.60,321.08 423.05,321.02 423.50,321.08 423.95,320.69 424.40,321.15 424.85,321.34 425.30,321.13 425.75,320.65 426.20,320.78 426.65,320.90 427.10,321.00 427.55,320.53 428.00,321.71 428.45,321.04 428.90,321.15 429.35,320.99 429.80,321.18 430.25,321.92 430.70,320.95 431.15,321.15 431.60,321.01 432.05,321.23 432.50,322.01 432.95,321.28 433.40,321.37 433.85,320.92 434.30,321.45 434.75,321.68 435.20,321.43 435.65,321.46 436.10,321.87 436.55,321.76 437.00,321.52 437.45,321.25 437.90,320.96 438.35,322.05 438.80,320.86 439.25,321.59 439.70,321.25 440.15,321.01 440.60,321.54 441.05,320.92 441.50,321.58 441.95,320.74 442.40,321.24 442.85,321.49 443.30,320.68 443.75,321.75 444.20,321.31 444.65,320.23 445.10,321.51 445.55,321.71 446.00,320.97 446.45,321.02 446.90,321.25 447.35,320.49 447.80,321.26 448.25,321.58 448.70,321.10 449.15,321.74" fill="none" stroke="#6596c8" stroke-width="2.0" stroke-linejoin="round" stroke-linecap="round" />
<polyline points="213.50,366.86 213.95,365.43 214.40,365.52 214.85,365.96 215.30,366.47 215.75,366.42 216.20,366.01 216.65,365.97 217.10,366.15 217.55,367.03 218.00,366.12 218.45,366.27 218.90,366.82 219.35,366.39 219.80,366.12 220.25,366.95 220.70,366.53 221.15,366.12 221.60,366.16 222.05,366.53 222.50,365.95 222.95,366.01 223.40,365.99 223.85,365.67 224.30,364.06 224.75,363.34 225.20,360.65 225.65,354.12 226.00,349.42 226.10,350.10 226.55,357.45 227.00,361.74 227.45,363.98 227.90,364.50 228.35,365.74 228.80,365.51 229.25,365.56 229.70,366.01 230.15,365.52 230.60,365.71 231.05,365.83 231.50,366.19 231.95,366.48 232.40,366.37 232.85,366.42 233.30,366.13 233.75,366.40 234.20,366.24 234.65,366.78 235.10,366.20 235.55,366.44 236.00,366.59 236.45,366.81 236.90,366.30 237.35,366.49 237.80,366.29 238.25,366.10 238.70,366.95 239.15,366.71 239.60,366.00 240.05,366.16 240.50,366.66 240.95,366.22 241.40,366.02 241.85,366.78 242.30,366.12 242.75,366.12 243.20,366.40 243.65,365.91 244.10,366.13 244.55,366.14 245.00,366.31 245.45,365.77 245.90,366.39 246.35,366.11 246.80,366.62 247.25,366.07 247.70,365.82 248.15,365.83 248.60,365.65 249.05,366.07 249.50,366.08 249.95,366.46 250.40,366.22 250.85,365.94 251.30,366.64 251.75,366.17 252.20,366.46 252.65,366.92 253.10,366.90 253.55,366.23 254.00,366.47 254.45,367.01 254.90,366.90 255.35,366.75 255.80,366.87 256.25,365.79 256.70,366.43 257.15,366.00 257.60,366.25 258.05,366.30 258.50,366.55 258.95,366.73 259.40,366.51 259.85,366.23 260.30,365.85 260.75,366.15 261.20,365.13 261.65,361.99 262.00,359.06 262.10,359.77 262.55,363.67 263.00,365.31 263.45,366.11 263.90,365.62 264.35,365.76 264.80,365.80 265.25,365.49" fill="none" stroke="#e27a7e" stroke-width="2.0" stroke-linejoin="round" stroke-linecap="round" />
<polyline points="270.60,365.68 271.05,365.26 271.50,365.00 271.95,363.48 272.40,359.42 272.85,344.40 272.90,344.29 273.30,356.29 273.75,363.22 274.20,365.16 274.65,365.84 275.10,365.65 275.55,365.96 276.00,366.09 276.45,365.94 276.90,365.88 277.35,366.16 277.80,365.47 278.25,365.14 278.70,365.44 279.15,365.47 279.60,364.15 280.05,364.66 280.50,362.37 280.95,356.52 281.40,334.68 281.50,332.43 281.85,349.83 282.30,361.20 282.75,363.71 283.20,364.47 283.65,365.04 284.10,365.83 284.55,365.30 285.00,365.35 285.45,365.74 285.90,366.20 286.35,365.57 286.80,366.15 287.25,366.22 287.70,366.19 288.15,366.15 288.60,366.58 289.05,366.49 289.50,365.81 289.95,366.92 290.40,366.52 290.85,366.48 291.30,366.23 291.75,366.23 292.20,365.41 292.65,366.16 293.10,366.38 293.55,366.28 294.00,365.70 294.45,364.94 294.90,365.19 295.35,365.30 295.80,365.74 296.00,364.68 296.25,365.25 296.70,365.50 297.15,365.61 297.60,365.45 298.05,364.59 298.50,365.85 298.95,365.73 299.40,365.91 299.85,365.41 300.30,365.60 300.75,366.33 301.20,365.79 301.65,365.85 302.10,365.64 302.55,366.37 303.00,365.39 303.45,365.83 303.90,366.22 304.35,366.10 304.80,366.48 305.25,366.37 305.70,366.79 306.15,366.25 306.60,366.33 307.05,366.52 307.50,365.83 307.95,366.99 308.40,366.19 308.85,366.94 309.30,367.06 309.75,366.91 310.20,366.62 310.65,366.32 311.10,365.77 311.55,366.70 312.00,366.39" fill="none" stroke="#e27a7e" stroke-width="2.0" stroke-linejoin="round" stroke-linecap="round" />
<polyline points="317.30,366.61 317.75,365.88 318.20,366.20 318.65,365.83 319.10,366.13 319.55,365.87 320.00,365.95 320.45,365.37 320.90,365.81 321.35,366.05 321.80,366.60 322.25,366.28 322.70,365.80 323.15,366.84 323.60,366.45 324.05,366.77 324.50,366.10 324.95,365.29 325.40,366.22 325.85,366.16 326.30,366.64 326.75,366.02 327.20,366.26 327.65,366.10 328.10,366.63 328.55,366.24 329.00,367.04 329.45,366.81 329.90,366.79 330.35,366.38 330.80,366.50 331.25,366.68 331.70,366.03 332.15,366.73 332.60,366.21 333.05,366.64 333.50,366.95 333.95,366.67 334.40,365.69 334.85,366.48 335.30,365.91 335.75,365.85 336.20,365.91 336.65,365.57 337.10,366.08 337.55,365.76 338.00,366.42 338.45,366.17 338.90,365.16 339.35,365.78 339.80,365.80 340.25,365.96 340.70,366.02 341.15,366.37 341.60,366.29 342.05,366.00 342.50,366.59 342.95,366.80 343.40,366.51 343.85,366.96 344.30,365.38 344.75,365.00 345.20,365.03 345.65,365.13 346.10,365.27 346.55,365.09 347.00,365.32 347.45,365.32 347.90,364.49 348.35,364.37 348.80,364.68 349.25,364.81 349.70,364.90 350.15,364.74 350.60,364.67 351.05,364.07 351.50,364.48 351.95,364.08 352.40,364.42 352.85,364.57 353.30,364.00 353.75,364.15 354.20,365.11 354.65,363.99 355.10,364.11 355.55,363.94 356.00,363.86 356.45,364.78 356.90,364.26 357.35,364.35 357.80,364.37 358.25,363.74 358.70,365.09 359.15,364.72 359.60,364.99 360.05,365.59 360.50,365.14 360.95,365.33 361.40,365.43 361.85,365.90 362.30,365.04 362.75,365.38 363.20,364.87 363.65,365.70 364.10,365.96 364.55,365.62 365.00,366.50 365.45,366.16 365.90,366.52 366.35,365.89 366.80,366.48 367.25,365.65 367.70,365.97 368.15,365.86 368.60,365.66 369.05,366.38 369.50,366.25 369.95,365.53 370.40,366.02 370.85,365.81 371.30,365.83 371.75,366.00 372.20,365.62 372.65,365.88 373.10,365.95 373.55,365.66 374.00,365.73 374.45,366.26 374.90,366.01 375.35,366.88 375.80,366.85 376.25,365.90 376.70,366.32 377.15,365.55 377.60,366.08 378.05,366.04 378.50,366.13 378.95,365.69 379.40,366.58 379.85,366.57 380.30,366.26 380.75,366.53 381.20,366.90 381.65,367.14 382.10,366.10 382.55,367.12 383.00,365.93 383.45,366.23 383.90,366.35 384.35,366.99 384.80,366.62 385.25,366.57 385.70,366.87 386.15,366.35 386.60,366.07 387.05,366.70 387.50,366.06 387.95,365.65 388.40,365.46 388.85,366.10 389.30,366.68 389.75,366.27 390.20,366.01 390.65,366.42 391.10,365.48 391.55,366.17 392.00,365.85 392.45,366.55 392.90,365.80 393.35,366.42 393.80,366.25 394.25,366.23 394.70,366.52 395.15,366.27 395.60,366.87 396.05,366.34 396.50,365.68 396.95,367.00 397.40,366.99 397.85,366.73 398.30,367.07 398.75,366.83 399.20,366.30 399.65,365.87 400.10,366.22 400.55,366.47 401.00,366.74 401.45,366.02 401.90,366.17 402.35,366.99 402.80,366.16 403.25,366.11 403.70,365.98 404.15,366.84 404.60,366.50 405.05,366.49 405.50,366.72 405.95,366.44 406.40,366.54 406.85,366.17 407.30,366.32 407.75,366.22 408.20,366.24 408.65,365.58 409.10,365.93 409.55,365.89 410.00,365.81 410.45,366.05 410.90,366.74 411.35,366.47 411.80,366.21 412.25,366.34 412.70,366.76 413.15,365.89 413.60,366.50 414.05,366.99 414.50,367.08 414.95,366.80 415.40,366.71 415.85,365.90 416.30,366.30 416.75,366.55 417.20,366.70 417.65,366.71 418.10,365.74 418.55,366.33 419.00,366.58 419.45,366.16 419.90,366.27 420.35,366.40 420.80,366.05 421.25,365.09 421.70,363.06 421.70,363.20 422.15,364.84 422.60,365.38 423.05,365.70 423.50,365.82 423.95,365.99 424.40,365.47 424.85,365.72 425.30,365.89 425.75,366.45 426.20,366.15 426.65,365.92 427.10,366.29 427.55,366.06 428.00,366.11 428.45,366.43 428.90,366.21 429.35,366.18 429.80,366.43 430.25,366.03 430.70,366.28 431.15,365.57 431.60,366.21 432.05,366.94 432.50,366.32 432.95,366.48 433.40,366.36 433.85,366.17 434.30,366.72 434.75,366.55 435.20,366.94 435.65,366.24 436.10,366.55 436.55,366.39 437.00,366.26 437.45,366.79 437.90,366.08 438.35,365.96 438.80,366.91 439.25,365.60 439.70,364.39 440.15,360.26 440.30,358.60 440.60,362.13 441.05,364.46 441.50,365.39 441.95,365.58 442.40,366.34 442.85,366.12 443.30,366.57 443.75,366.52 444.20,365.70 444.65,366.14 445.10,365.82 445.55,365.77 446.00,366.44 446.45,366.56 446.90,366.14 447.35,366.26 447.80,366.28 448.25,366.34 448.70,366.40 449.15,365.97" fill="none" stroke="#e27a7e" stroke-width="2.0" stroke-linejoin="round" stroke-linecap="round" />
<line x1="212.90" y1="225.20" x2="212.90" y2="374.00" stroke="#050505" stroke-width="1.9" stroke-linecap="butt"/>
<line x1="449.90" y1="225.20" x2="449.90" y2="374.00" stroke="#050505" stroke-width="1.9" stroke-linecap="butt"/>
<line x1="211.95" y1="225.20" x2="450.85" y2="225.20" stroke="#050505" stroke-width="1.9" stroke-linecap="butt"/>
<line x1="211.95" y1="374.00" x2="450.85" y2="374.00" stroke="#050505" stroke-width="1.9" stroke-linecap="butt"/>
<line x1="263.80" y1="228.50" x2="268.00" y2="221.90" stroke="#050505" stroke-width="2.0" stroke-linecap="butt"/>
<line x1="268.20" y1="228.50" x2="272.40" y2="221.90" stroke="#050505" stroke-width="2.0" stroke-linecap="butt"/>
<line x1="263.80" y1="378.80" x2="268.50" y2="369.20" stroke="#050505" stroke-width="2.0" stroke-linecap="butt"/>
<line x1="267.60" y1="378.80" x2="272.30" y2="369.20" stroke="#050505" stroke-width="2.0" stroke-linecap="butt"/>
<line x1="310.30" y1="228.50" x2="314.50" y2="221.90" stroke="#050505" stroke-width="2.0" stroke-linecap="butt"/>
<line x1="314.70" y1="228.50" x2="318.90" y2="221.90" stroke="#050505" stroke-width="2.0" stroke-linecap="butt"/>
<line x1="310.30" y1="378.80" x2="315.00" y2="369.20" stroke="#050505" stroke-width="2.0" stroke-linecap="butt"/>
<line x1="314.10" y1="378.80" x2="318.80" y2="369.20" stroke="#050505" stroke-width="2.0" stroke-linecap="butt"/>
<line x1="213.00" y1="374.00" x2="213.00" y2="379.00" stroke="#050505" stroke-width="1.7" stroke-linecap="butt"/>
<text x="213.00" y="391.30" font-size="10.3" font-weight="bold" fill="#050505" text-anchor="middle"  stroke="#050505" stroke-width="0.22">1.0</text>
<line x1="240.00" y1="374.00" x2="240.00" y2="379.00" stroke="#050505" stroke-width="1.7" stroke-linecap="butt"/>
<text x="240.00" y="391.30" font-size="10.3" font-weight="bold" fill="#050505" text-anchor="middle"  stroke="#050505" stroke-width="0.22">1.5</text>
<line x1="226.50" y1="374.00" x2="226.50" y2="377.00" stroke="#050505" stroke-width="1.5" stroke-linecap="butt"/>
<line x1="253.50" y1="374.00" x2="253.50" y2="377.00" stroke="#050505" stroke-width="1.5" stroke-linecap="butt"/>
<line x1="286.00" y1="374.00" x2="286.00" y2="379.00" stroke="#050505" stroke-width="1.7" stroke-linecap="butt"/>
<text x="286.00" y="391.30" font-size="10.3" font-weight="bold" fill="#050505" text-anchor="middle"  stroke="#050505" stroke-width="0.22">3.0</text>
<line x1="272.60" y1="374.00" x2="272.60" y2="377.00" stroke="#050505" stroke-width="1.5" stroke-linecap="butt"/>
<line x1="299.40" y1="374.00" x2="299.40" y2="377.00" stroke="#050505" stroke-width="1.5" stroke-linecap="butt"/>
<line x1="343.50" y1="374.00" x2="343.50" y2="379.00" stroke="#050505" stroke-width="1.7" stroke-linecap="butt"/>
<text x="343.50" y="391.30" font-size="10.3" font-weight="bold" fill="#050505" text-anchor="middle"  stroke="#050505" stroke-width="0.22">6.5</text>
<line x1="370.00" y1="374.00" x2="370.00" y2="379.00" stroke="#050505" stroke-width="1.7" stroke-linecap="butt"/>
<text x="370.00" y="391.30" font-size="10.3" font-weight="bold" fill="#050505" text-anchor="middle"  stroke="#050505" stroke-width="0.22">7.0</text>
<line x1="396.50" y1="374.00" x2="396.50" y2="379.00" stroke="#050505" stroke-width="1.7" stroke-linecap="butt"/>
<text x="396.50" y="391.30" font-size="10.3" font-weight="bold" fill="#050505" text-anchor="middle"  stroke="#050505" stroke-width="0.22">7.5</text>
<line x1="423.00" y1="374.00" x2="423.00" y2="379.00" stroke="#050505" stroke-width="1.7" stroke-linecap="butt"/>
<text x="423.00" y="391.30" font-size="10.3" font-weight="bold" fill="#050505" text-anchor="middle"  stroke="#050505" stroke-width="0.22">8.0</text>
<line x1="449.50" y1="374.00" x2="449.50" y2="379.00" stroke="#050505" stroke-width="1.7" stroke-linecap="butt"/>
<text x="449.50" y="391.30" font-size="10.3" font-weight="bold" fill="#050505" text-anchor="middle"  stroke="#050505" stroke-width="0.22">8.5</text>
<line x1="330.25" y1="374.00" x2="330.25" y2="377.00" stroke="#050505" stroke-width="1.5" stroke-linecap="butt"/>
<line x1="356.75" y1="374.00" x2="356.75" y2="377.00" stroke="#050505" stroke-width="1.5" stroke-linecap="butt"/>
<line x1="383.25" y1="374.00" x2="383.25" y2="377.00" stroke="#050505" stroke-width="1.5" stroke-linecap="butt"/>
<line x1="409.75" y1="374.00" x2="409.75" y2="377.00" stroke="#050505" stroke-width="1.5" stroke-linecap="butt"/>
<line x1="436.25" y1="374.00" x2="436.25" y2="377.00" stroke="#050505" stroke-width="1.5" stroke-linecap="butt"/>
<text x="331.20" y="408.60" font-size="10.3" font-weight="bold" fill="#050505" text-anchor="middle"  stroke="#050505" stroke-width="0.22">Chemical shift (ppm)</text>
<text x="357.30" y="238.60" font-size="9" font-weight="normal" fill="#f2a84e" stroke="#f2a84e" stroke-width="0.42" textLength="44.2" lengthAdjust="spacingAndGlyphs" >HS-Pt-CDs</text>
<text x="353.00" y="285.20" font-size="9" font-weight="normal" fill="#6a9ad0" stroke="#6a9ad0" stroke-width="0.42" textLength="61.6" lengthAdjust="spacingAndGlyphs" >Pt-CDs+690nm</text>
<text x="327.80" y="332.70" font-size="9" font-weight="normal" fill="#e8868a" stroke="#e8868a" stroke-width="0.42" textLength="77.4" lengthAdjust="spacingAndGlyphs" >HS-Pt-CDs+690nm</text>
<text x="236.4" y="255.5" font-size="9" font-weight="bold" fill="#050505" stroke="#050505" stroke-width="0.22">Pt-O<tspan fill="#e8141c" stroke="#e8141c" stroke-width="0.22">H</tspan></text>
<line x1="248.40" y1="258.40" x2="248.40" y2="265.30" stroke="#e8141c" stroke-width="1.5" stroke-linecap="butt"/>
<path d="M246.00,264.80 L250.80,264.80 L248.40,268.80 Z" fill="#e8141c" stroke="none" stroke-width="1" />
<text x="324.2" y="254.9" font-size="9" font-weight="bold" fill="#050505" stroke="#050505" stroke-width="0.22">Pt-N<tspan fill="#e8141c" stroke="#e8141c" stroke-width="0.22">H</tspan><tspan font-size="6.5" dy="2.2">3</tspan></text>
<line x1="335.80" y1="257.00" x2="335.80" y2="263.90" stroke="#e8141c" stroke-width="1.5" stroke-linecap="butt"/>
<path d="M333.40,263.40 L338.20,263.40 L335.80,267.40 Z" fill="#e8141c" stroke="none" stroke-width="1" />
<text x="403.7" y="253.8" font-size="9" font-weight="bold" fill="#050505" stroke="#050505" stroke-width="0.22">-CO-N<tspan fill="#e8141c" stroke="#e8141c" stroke-width="0.22">H</tspan>-</text>
<line x1="421.70" y1="257.00" x2="421.70" y2="264.50" stroke="#e8141c" stroke-width="1.5" stroke-linecap="butt"/>
<path d="M419.30,264.00 L424.10,264.00 L421.70,268.00 Z" fill="#e8141c" stroke="none" stroke-width="1" />
<text x="339.6" y="296.5" font-size="9" font-weight="bold" fill="#050505" stroke="#050505" stroke-width="0.22">Ar-<tspan fill="#e8141c" stroke="#e8141c" stroke-width="0.22">H</tspan></text>
<line x1="349.00" y1="301.20" x2="349.00" y2="308.20" stroke="#e8141c" stroke-width="1.5" stroke-linecap="butt"/>
<path d="M346.60,307.70 L351.40,307.70 L349.00,311.70 Z" fill="#e8141c" stroke="none" stroke-width="1" />
<text x="247.9" y="340.0" font-size="9" font-weight="bold" fill="#050505" stroke="#050505" stroke-width="0.22">-N<tspan fill="#e8141c" stroke="#e8141c" stroke-width="0.22">H</tspan><tspan font-size="6.5" dy="2.2">2</tspan></text>
<line x1="261.60" y1="344.50" x2="261.60" y2="350.40" stroke="#e8141c" stroke-width="1.5" stroke-linecap="butt"/>
<path d="M259.20,349.90 L264.00,349.90 L261.60,353.90 Z" fill="#e8141c" stroke="none" stroke-width="1" />
<text x="418.8" y="341.3" font-size="9" font-weight="bold" fill="#050505" stroke="#050505" stroke-width="0.22">COO<tspan fill="#e8141c" stroke="#e8141c" stroke-width="0.22">H</tspan></text>
<line x1="440.30" y1="344.60" x2="440.30" y2="352.00" stroke="#e8141c" stroke-width="1.5" stroke-linecap="butt"/>
<path d="M437.90,351.50 L442.70,351.50 L440.30,355.50 Z" fill="#e8141c" stroke="none" stroke-width="1" />
<text x="475.60" y="227.00" font-size="14" font-weight="bold" fill="#050505"  stroke="#050505" stroke-width="0.22">f</text>
<polyline points="492.90,277.86 493.40,276.61 493.90,276.83 494.40,277.08 494.90,277.35 495.40,276.30 495.90,276.08 496.40,276.47 496.90,277.22 497.40,276.78 497.90,277.21 498.40,276.50 498.90,277.36 499.40,277.00 499.90,276.87 500.40,277.08 500.90,276.98 501.40,276.91 501.90,276.03 502.40,276.91 502.90,276.67 503.40,276.95 503.90,276.83 504.40,276.48 504.90,276.89 505.40,277.41 505.90,276.90 506.40,276.61 506.90,276.63 507.40,277.03 507.90,276.11 508.40,276.34 508.90,275.92 509.40,274.81 509.90,274.95 510.40,275.57 510.90,275.71 511.40,276.08 511.90,276.57 512.40,277.19 512.90,276.29 513.40,277.30 513.90,277.02 514.40,275.39 514.90,276.25 515.40,276.54 515.90,276.15 516.40,276.78 516.90,276.42 517.40,276.49 517.90,276.09 518.40,275.31 518.90,276.34 519.40,275.61 519.90,276.53 520.40,276.22 520.90,277.52 521.40,276.25 521.90,275.15 522.40,277.15 522.90,276.26 523.40,276.58 523.90,276.68 524.40,275.49 524.90,275.43 525.40,276.32 525.90,275.36 526.40,274.96 526.90,275.51 527.40,275.72 527.90,276.13 528.40,275.54 528.90,275.41 529.40,275.94 529.90,275.78 530.40,276.08 530.90,275.05 531.40,276.67 531.90,275.05 532.40,276.13 532.90,276.03 533.40,275.14 533.90,275.41 534.40,275.07 534.90,275.36 535.40,275.02 535.90,274.81 536.40,275.28 536.90,274.96 537.40,275.71 537.90,275.70 538.40,275.26 538.90,274.87 539.40,275.86 539.90,274.87 540.40,275.05 540.90,274.91 541.40,275.42 541.90,275.23 542.40,274.59 542.90,274.97 543.40,274.90 543.90,275.63 544.40,276.33 544.90,275.98 545.40,275.98 545.90,275.89 546.40,274.86 546.90,274.89 547.40,274.47 547.90,275.54 548.40,275.13 548.90,274.53 549.40,275.22 549.90,274.92 550.40,275.39 550.90,274.78 551.40,274.55 551.90,274.82 552.40,274.73 552.90,275.16 553.40,274.50 553.90,274.34 554.40,274.47 554.90,273.50 555.40,273.14 555.90,271.19 556.40,256.70 556.50,252.80 556.90,268.18 557.40,271.93 557.90,270.42 558.40,269.95 558.90,269.94 559.40,273.48 559.90,272.91 560.40,271.47 560.90,274.70 561.40,272.48 561.90,271.59 562.40,272.89 562.90,270.31 563.40,272.23 563.90,270.25 564.40,272.98 564.90,273.07 565.40,271.88 565.90,273.77 566.40,270.92 566.90,272.90 567.40,271.83 567.90,270.18 568.40,273.12 568.90,274.73 569.40,276.96 569.90,272.15 570.40,272.76 570.90,274.72 571.40,270.30 571.90,274.40 572.40,269.31 572.90,270.11 573.40,271.59 573.90,271.33 574.40,273.48 574.90,270.22 575.40,271.71 575.90,271.35 576.40,272.15 576.90,272.86 577.40,273.36 577.90,272.36 578.40,272.44 578.90,271.87 579.40,269.25 579.90,268.75 580.40,272.12 580.90,269.03 581.40,269.15 581.90,267.01 582.20,262.60 582.40,264.49 582.90,268.76 583.40,269.68 583.90,271.51 584.40,273.94 584.90,268.94 585.40,271.30 585.90,273.25 586.40,272.14 586.90,270.77 587.40,271.78 587.90,272.38 588.40,273.35 588.90,269.16 589.40,270.33 589.90,272.15 590.40,272.39 590.90,272.08 591.40,272.35 591.90,273.09 592.40,272.41 592.90,275.77 593.40,270.58 593.90,271.07 594.40,269.31 594.90,272.58 595.40,272.00 595.90,271.35 596.40,269.76 596.90,274.73 597.40,272.24 597.90,272.88 598.40,269.39 598.90,272.07 599.40,272.32 599.90,274.26 600.40,272.43 600.90,273.18 601.40,268.96 601.90,271.10 602.40,271.55 602.90,271.23 603.40,270.90 603.90,270.82 604.40,273.38 604.90,270.58 605.40,272.39 605.90,272.27 606.40,270.54 606.90,271.27 607.40,267.16 607.90,269.90 608.40,272.51 608.90,269.62 609.40,267.18 609.90,271.84 610.40,267.98 610.90,271.95 611.40,269.43 611.90,267.07 612.40,267.73 612.90,271.09 613.40,268.77 613.90,268.38 614.40,268.96 614.90,268.71 615.40,268.27 615.90,270.60 616.40,272.23 616.90,270.25 617.40,272.84 617.90,272.24 618.40,268.16 618.90,271.82 619.40,272.92 619.90,267.61 620.40,270.00 620.90,271.68 621.40,269.55 621.90,271.00 622.40,270.48 622.90,269.48 623.40,270.76 623.90,270.29 624.40,270.88 624.90,270.90 625.40,269.86 625.90,269.67 626.40,269.96 626.90,271.73 627.40,269.32 627.90,273.11 628.40,269.52 628.90,273.98 629.40,270.57 629.90,270.22 630.40,270.10 630.90,271.72 631.40,271.24 631.90,269.52 632.40,271.27 632.90,271.76 633.40,271.31 633.90,273.09 634.40,267.02 634.90,270.65 635.40,270.00 635.90,271.75 636.40,274.11 636.90,268.81 637.40,269.68 637.90,270.65 638.40,272.55 638.90,272.72 639.40,269.90 639.90,272.42 640.40,270.96 640.90,272.70 641.40,271.20 641.90,271.95 642.40,271.10 642.90,269.66 643.40,269.56 643.90,271.84 644.40,269.91 644.90,269.46 645.40,270.69 645.90,271.78 646.40,272.06 646.90,269.90 647.40,270.77 647.90,271.91 648.40,269.97 648.90,272.54 649.40,271.25 649.90,269.39 650.40,271.99 650.90,270.51 651.40,273.49 651.90,270.72 652.40,273.40 652.90,274.62 653.40,271.91 653.90,271.81 654.40,270.39 654.90,271.16 655.40,272.26 655.90,274.18 656.40,272.94 656.90,269.67 657.40,273.01 657.90,269.83 658.40,273.86 658.90,272.87 659.40,271.74 659.90,268.97 660.40,271.92 660.90,269.83 661.40,269.69 661.90,270.68 662.40,268.27 662.90,270.96 663.40,271.42 663.90,272.23 664.40,269.85 664.90,270.02 665.40,272.95 665.90,272.78 666.40,268.09 666.90,271.67 667.40,272.37 667.90,269.65 668.40,272.33 668.90,270.35 669.40,270.13 669.90,268.78 670.40,272.88 670.90,269.12 671.40,265.44 671.90,268.33 672.40,269.40 672.90,268.42" fill="none" stroke="#f2a84e" stroke-width="1.8" stroke-linejoin="round" stroke-linecap="round" />
<polyline points="492.90,320.94 493.40,320.93 493.90,320.27 494.40,321.26 494.90,321.51 495.40,320.52 495.90,320.90 496.40,321.06 496.90,320.70 497.40,320.74 497.90,320.41 498.40,320.46 498.90,320.70 499.40,321.02 499.90,320.61 500.40,320.88 500.90,320.62 501.40,320.44 501.90,320.75 502.40,320.61 502.90,320.82 503.40,320.91 503.90,320.53 504.40,320.50 504.90,320.66 505.40,320.11 505.90,320.14 506.40,320.48 506.90,319.69 507.40,319.35 507.90,319.27 508.40,319.21 508.90,319.40 509.40,319.71 509.90,319.89 510.40,319.61 510.90,319.96 511.40,319.74 511.90,320.28 512.40,319.93 512.90,320.16 513.40,320.07 513.90,319.84 514.40,319.71 514.90,319.63 515.40,320.02 515.90,320.01 516.40,319.44 516.90,319.63 517.40,319.82 517.90,319.72 518.40,320.01 518.90,319.71 519.40,320.09 519.90,319.38 520.40,319.77 520.90,319.46 521.40,319.22 521.90,318.49 522.40,319.37 522.90,319.47 523.40,319.58 523.90,319.81 524.40,319.50 524.90,319.26 525.40,319.02 525.90,319.14 526.40,319.39 526.90,318.68 527.40,318.79 527.90,319.18 528.40,319.68 528.90,319.20 529.40,319.41 529.90,319.02 530.40,318.70 530.90,318.88 531.40,319.23 531.90,318.84 532.40,319.00 532.90,319.06 533.40,319.63 533.90,319.41 534.40,318.27 534.90,318.44 535.40,319.11 535.90,318.81 536.40,318.97 536.90,319.02 537.40,319.15 537.90,317.96 538.40,318.35 538.90,317.90 539.40,319.17 539.90,318.66 540.40,318.47 540.90,318.60 541.40,318.85 541.90,318.61 542.40,317.99 542.90,318.68 543.40,318.88 543.90,318.31 544.40,318.52 544.90,318.06 545.40,318.96 545.90,317.96 546.40,318.18 546.90,318.34 547.40,318.35 547.90,318.42 548.40,317.81 548.90,318.37 549.40,317.96 549.90,318.15 550.40,318.26 550.90,317.85 551.40,317.12 551.90,318.57 552.40,317.99 552.90,317.74 553.40,318.49 553.90,318.46 554.40,318.01 554.90,318.46 555.40,318.06 555.90,317.73 556.40,317.72 556.50,298.00 556.90,318.19 557.40,314.58 557.90,314.28 558.40,314.64 558.90,314.73 559.40,314.46 559.90,314.68 560.40,314.99 560.90,314.54 561.40,314.94 561.90,314.56 562.40,314.77 562.90,314.46 563.40,314.47 563.90,314.00 564.40,314.55 564.90,313.10 565.40,314.14 565.90,314.15 566.40,314.14 566.90,314.78 567.40,313.98 567.90,314.38 568.40,314.48 568.90,314.63 569.40,314.53 569.90,314.46 570.40,314.50 570.90,314.94 571.40,313.85 571.90,313.76 572.40,314.31 572.90,314.32 573.40,314.58 573.90,314.27 574.40,314.62 574.90,313.55 575.40,314.01 575.90,314.40 576.40,314.08 576.90,314.43 577.40,314.04 577.90,314.01 578.40,314.43 578.90,314.37 579.40,314.03 579.90,314.55 580.40,313.84 580.90,313.94 581.40,312.57 581.90,312.56 582.20,312.03 582.40,312.46 582.90,313.47 583.40,313.48 583.90,314.24 584.40,314.03 584.90,313.72 585.40,313.69 585.90,314.17 586.40,313.73 586.90,313.76 587.40,314.38 587.90,314.27 588.40,314.40 588.90,313.81 589.40,314.14 589.90,314.68 590.40,313.89 590.90,313.76 591.40,314.20 591.90,314.16 592.40,313.47 592.90,314.10 593.40,314.23 593.90,313.44 594.40,313.30 594.90,313.65 595.40,313.91 595.90,313.89 596.40,314.05 596.90,313.49 597.40,314.37 597.90,314.46 598.40,313.99 598.90,313.66 599.40,313.62 599.90,313.89 600.40,313.79 600.90,313.79 601.40,313.46 601.90,313.64 602.40,313.32 602.90,312.95 603.40,312.26 603.90,310.35 604.00,310.36 604.40,312.30 604.90,312.58 605.40,313.27 605.90,313.53 606.40,313.72 606.90,313.41 607.40,313.82 607.90,313.41 608.40,313.40 608.90,313.28 609.40,313.04 609.90,313.17 610.40,313.16 610.90,313.03 611.40,313.06 611.90,310.47 612.40,306.91 612.60,305.82 612.90,307.73 613.40,309.11 613.90,310.34 614.40,310.34 614.90,310.41 615.40,311.11 615.90,310.89 616.40,310.34 616.90,310.72 617.40,311.03 617.90,310.70 618.40,311.95 618.90,310.73 619.40,311.01 619.90,311.14 620.40,311.17 620.90,310.79 621.40,310.96 621.90,311.24 622.40,311.38 622.90,311.40 623.40,311.21 623.90,311.11 624.40,311.26 624.90,311.10 625.40,310.78 625.90,310.87 626.40,311.46 626.90,311.09 627.40,311.17 627.90,311.54 628.40,311.17 628.90,311.12 629.40,311.73 629.90,311.15 630.40,310.79 630.90,311.15 631.40,311.40 631.90,311.94 632.40,311.45 632.90,311.67 633.40,311.01 633.90,311.70 634.40,310.76 634.90,311.79 635.40,311.69 635.90,312.24 636.40,311.57 636.90,311.73 637.40,311.45 637.90,311.27 638.40,311.61 638.90,311.92 639.40,311.13 639.90,311.77 640.40,312.17 640.90,311.12 641.40,310.98 641.90,311.24 642.40,310.92 642.90,311.98 643.40,311.54 643.90,311.32 644.40,311.05 644.90,311.95 645.40,311.51 645.90,311.70 646.40,311.79 646.90,312.32 647.40,311.53 647.90,312.16 648.40,312.17 648.90,311.86 649.40,312.34 649.90,311.38 650.40,311.92 650.90,312.31 651.40,312.40 651.90,312.18 652.40,312.23 652.90,311.28 653.40,311.94 653.90,311.98 654.40,311.76 654.90,311.46 655.40,311.74 655.90,312.52 656.40,311.85 656.90,311.74 657.40,312.62 657.90,312.30 658.40,311.99 658.90,312.23 659.40,311.47 659.90,311.76 660.40,312.53 660.90,311.74 661.40,312.00 661.90,312.57 662.40,312.31 662.90,311.92 663.40,311.85 663.90,311.98 664.40,312.39 664.90,311.75 665.40,312.24 665.90,312.42 666.40,312.33 666.90,312.19 667.40,311.61 667.90,312.43 668.40,312.69 668.90,312.57 669.40,312.21 669.90,312.00 670.40,311.98 670.90,312.15 671.40,311.90 671.90,311.65 672.40,311.52 672.90,311.96" fill="none" stroke="#5f93cc" stroke-width="1.7" stroke-linejoin="round" stroke-linecap="round" />
<polyline points="492.90,359.91 493.40,360.59 493.90,360.10 494.40,359.44 494.90,359.68 495.40,359.66 495.90,359.98 496.40,359.42 496.90,360.18 497.40,359.15 497.90,359.46 498.40,359.50 498.90,358.95 499.40,359.21 499.90,359.29 500.40,359.51 500.90,358.82 501.40,359.21 501.90,358.83 502.40,358.51 502.90,360.07 503.40,358.61 503.90,359.55 504.40,358.65 504.90,358.92 505.40,358.47 505.90,358.41 506.40,358.51 506.90,358.83 507.40,357.56 507.90,358.40 508.40,356.93 508.90,353.20 509.40,349.59 509.90,355.12 510.40,357.70 510.90,358.56 511.40,358.34 511.90,357.85 512.40,358.31 512.90,359.35 513.40,358.39 513.90,358.27 514.40,358.20 514.90,360.11 515.40,359.08 515.90,358.38 516.40,359.27 516.90,357.97 517.40,358.94 517.90,358.24 518.40,357.18 518.90,358.70 519.40,357.61 519.90,359.53 520.40,358.99 520.90,358.74 521.40,358.34 521.90,358.57 522.40,358.62 522.90,358.69 523.40,359.17 523.90,359.12 524.40,358.74 524.90,358.22 525.40,357.74 525.90,357.82 526.40,359.73 526.90,358.92 527.40,359.24 527.90,358.12 528.40,358.66 528.90,358.67 529.40,358.92 529.90,358.00 530.40,358.63 530.90,357.46 531.40,358.31 531.90,358.89 532.40,358.34 532.90,358.41 533.40,358.21 533.90,359.13 534.40,358.55 534.90,357.56 535.40,357.87 535.90,357.04 536.40,354.78 536.90,356.77 537.40,356.72 537.90,355.95 538.40,355.04 538.90,357.63 539.40,357.84 539.90,357.92 540.40,357.73 540.90,358.41 541.40,359.69 541.90,358.40 542.40,358.06 542.90,358.73 543.40,359.03 543.90,358.12 544.40,359.32 544.90,359.46 545.40,358.13 545.90,359.26 546.40,358.34 546.90,358.04 547.40,359.14 547.90,359.71 548.40,358.76 548.90,357.90 549.40,359.06 549.90,358.55 550.40,358.66 550.90,358.75 551.40,357.34 551.90,358.49 552.40,358.25 552.90,357.56 553.40,357.41 553.90,356.95 554.40,357.59 554.90,357.77 555.40,357.93 555.90,358.92 556.40,357.76 556.90,358.31 557.40,357.74 557.90,357.90 558.40,357.73 558.90,358.52 559.40,358.82 559.90,358.49 560.40,357.28 560.90,357.98 561.40,359.10 561.90,357.27 562.40,358.94 562.90,356.76 563.40,354.50 563.90,352.67 564.40,351.48 564.90,353.01 565.40,353.17 565.90,352.53 566.40,354.20 566.90,353.23 567.40,356.03 567.90,353.42 568.40,354.26 568.90,354.31 569.40,352.63 569.90,354.80 570.40,355.24 570.90,354.02 571.40,355.03 571.90,354.39 572.40,351.75 572.90,354.93 573.40,350.35 573.90,353.99 574.40,352.45 574.90,351.48 575.40,352.90 575.90,352.09 576.40,354.25 576.90,353.49 577.40,351.78 577.90,351.69 578.40,352.73 578.90,355.72 579.40,353.48 579.90,354.82 580.40,355.31 580.90,354.19 581.40,353.51 581.90,354.47 582.40,355.00 582.90,354.74 583.40,351.16 583.90,350.88 584.40,352.07 584.90,355.47 585.40,354.42 585.90,352.50 586.40,353.99 586.90,354.80 587.40,354.35 587.90,354.63 588.40,354.22 588.90,354.39 589.40,352.49 589.90,355.01 590.40,354.23 590.90,354.56 591.40,354.72 591.90,355.09 592.40,355.39 592.90,350.78 593.40,356.44 593.90,351.16 594.40,352.73 594.90,355.76 595.40,354.55 595.90,355.34 596.40,355.74 596.90,353.36 597.40,355.96 597.90,353.42 598.40,353.23 598.90,353.54 599.40,352.77 599.90,353.19 600.40,352.51 600.90,353.61 601.40,352.68 601.90,352.52 602.40,354.91 602.90,354.17 603.40,352.49 603.90,356.97 604.40,353.30 604.90,354.46 605.40,355.90 605.90,353.26 606.40,350.65 606.90,355.74 607.40,357.63 607.90,354.99 608.40,351.95 608.90,355.43 609.40,354.14 609.90,354.57 610.40,352.92 610.90,351.87 611.40,352.92 611.90,353.28 612.40,354.28 612.90,351.85 613.40,351.99 613.90,353.61 614.40,354.55 614.90,354.43 615.40,353.05 615.90,353.79 616.40,354.25 616.90,353.49 617.40,351.38 617.90,354.00 618.40,353.95 618.90,353.65 619.40,354.35 619.90,354.18 620.40,353.97 620.90,355.55 621.40,352.81 621.90,354.26 622.40,353.05 622.90,352.36 623.40,355.24 623.90,354.26 624.40,354.47 624.90,355.27 625.40,355.28 625.90,353.09 626.40,350.90 626.90,353.74 627.40,352.88 627.90,353.02 628.40,356.07 628.90,353.32 629.40,353.39 629.90,354.84 630.40,353.81 630.90,352.85 631.40,356.45 631.90,352.40 632.40,354.54 632.90,354.37 633.40,355.78 633.90,352.56 634.40,354.02 634.90,353.51 635.40,351.95 635.90,353.72 636.40,353.40 636.90,354.28 637.40,353.31 637.90,353.46 638.40,355.48 638.90,356.34 639.40,354.99 639.90,354.41 640.40,352.13 640.90,352.89 641.40,355.02 641.90,354.87 642.40,353.78 642.90,355.28 643.40,352.59 643.90,352.46 644.40,352.33 644.90,354.62 645.40,353.69 645.90,353.91 646.40,354.54 646.90,354.58 647.40,351.68 647.90,354.05 648.40,355.40 648.90,354.03 649.40,353.99 649.90,356.86 650.40,352.72 650.90,353.74 651.40,353.37 651.90,354.27 652.40,352.99 652.90,353.79 653.40,353.33 653.90,355.12 654.40,354.68 654.90,355.70 655.40,354.50 655.90,352.93 656.40,353.88 656.90,353.84 657.40,353.12 657.90,355.46 658.40,352.83 658.90,353.56 659.40,353.64 659.90,351.02 660.40,353.83 660.90,356.16 661.40,354.80 661.90,353.46 662.40,351.82 662.90,353.28 663.40,355.89 663.90,353.29 664.40,352.85 664.90,352.00 665.40,353.67 665.90,353.36 666.40,355.02 666.90,353.49 667.40,354.84 667.90,352.90 668.40,355.91 668.90,355.99 669.40,352.87 669.90,353.74 670.40,355.72 670.90,354.33 671.40,355.09 671.90,354.07 672.40,352.46 672.90,353.86" fill="none" stroke="#e27a7e" stroke-width="1.7" stroke-linejoin="round" stroke-linecap="round" />
<rect x="492.40" y="226.50" width="180.80" height="148.50" fill="none" stroke="#050505" stroke-width="1.9"/>
<line x1="492.40" y1="375.00" x2="492.40" y2="377.80" stroke="#050505" stroke-width="1.6" stroke-linecap="butt"/>
<text x="492.40" y="391.60" font-size="10.3" font-weight="bold" fill="#050505" text-anchor="middle"  stroke="#050505" stroke-width="0.22">0</text>
<line x1="537.60" y1="375.00" x2="537.60" y2="377.80" stroke="#050505" stroke-width="1.6" stroke-linecap="butt"/>
<text x="537.60" y="391.60" font-size="10.3" font-weight="bold" fill="#050505" text-anchor="middle"  stroke="#050505" stroke-width="0.22">200</text>
<line x1="582.80" y1="375.00" x2="582.80" y2="377.80" stroke="#050505" stroke-width="1.6" stroke-linecap="butt"/>
<text x="582.80" y="391.60" font-size="10.3" font-weight="bold" fill="#050505" text-anchor="middle"  stroke="#050505" stroke-width="0.22">400</text>
<line x1="628.00" y1="375.00" x2="628.00" y2="377.80" stroke="#050505" stroke-width="1.6" stroke-linecap="butt"/>
<text x="628.00" y="391.60" font-size="10.3" font-weight="bold" fill="#050505" text-anchor="middle"  stroke="#050505" stroke-width="0.22">600</text>
<line x1="673.20" y1="375.00" x2="673.20" y2="377.80" stroke="#050505" stroke-width="1.6" stroke-linecap="butt"/>
<text x="673.20" y="391.60" font-size="10.3" font-weight="bold" fill="#050505" text-anchor="middle"  stroke="#050505" stroke-width="0.22">800</text>
<line x1="515.00" y1="375.00" x2="515.00" y2="376.70" stroke="#050505" stroke-width="1.2" stroke-linecap="butt"/>
<line x1="560.20" y1="375.00" x2="560.20" y2="376.70" stroke="#050505" stroke-width="1.2" stroke-linecap="butt"/>
<line x1="605.40" y1="375.00" x2="605.40" y2="376.70" stroke="#050505" stroke-width="1.2" stroke-linecap="butt"/>
<line x1="650.60" y1="375.00" x2="650.60" y2="376.70" stroke="#050505" stroke-width="1.2" stroke-linecap="butt"/>
<text x="583.10" y="408.80" font-size="10.3" font-weight="bold" fill="#050505" text-anchor="middle"  stroke="#050505" stroke-width="0.22">Binding energy (eV)</text>
<text x="486.00" y="300.90" font-size="10.3" font-weight="bold" fill="#050505" text-anchor="middle" transform="rotate(-90 486.00 300.90)"  stroke="#050505" stroke-width="0.22">Counts</text>
<text x="510.40" y="268.80" font-size="9" font-weight="bold" fill="#050505" text-anchor="middle"  stroke="#050505" stroke-width="0.22">Pt</text>
<text x="535.50" y="266.50" font-size="9" font-weight="bold" fill="#050505" text-anchor="middle"  stroke="#050505" stroke-width="0.22">Cl</text>
<text x="556.50" y="247.50" font-size="9" font-weight="bold" fill="#050505" text-anchor="middle"  stroke="#050505" stroke-width="0.22">C</text>
<text x="582.00" y="258.00" font-size="9" font-weight="bold" fill="#050505" text-anchor="middle"  stroke="#050505" stroke-width="0.22">N</text>
<text x="615.30" y="263.00" font-size="9" font-weight="bold" fill="#050505" text-anchor="middle"  stroke="#050505" stroke-width="0.22">O</text>
<text x="509.20" y="314.00" font-size="9" font-weight="bold" fill="#050505" text-anchor="middle"  stroke="#050505" stroke-width="0.22">Pt</text>
<text x="536.60" y="314.60" font-size="9" font-weight="bold" fill="#050505" text-anchor="middle"  stroke="#050505" stroke-width="0.22">Cl</text>
<text x="557.10" y="294.20" font-size="9" font-weight="bold" fill="#050505" text-anchor="middle"  stroke="#050505" stroke-width="0.22">C</text>
<text x="582.20" y="308.80" font-size="9" font-weight="bold" fill="#050505" text-anchor="middle"  stroke="#050505" stroke-width="0.22">N</text>
<text x="613.70" y="298.00" font-size="9" font-weight="bold" fill="#050505" text-anchor="middle"  stroke="#050505" stroke-width="0.22">O</text>
<text x="509.40" y="346.70" font-size="9" font-weight="bold" fill="#050505" text-anchor="middle"  stroke="#050505" stroke-width="0.22">Pt</text>
<text x="537.40" y="348.00" font-size="9" font-weight="bold" fill="#050505" text-anchor="middle"  stroke="#050505" stroke-width="0.22">Cl</text>
<text x="557.60" y="346.30" font-size="9" font-weight="bold" fill="#050505" text-anchor="middle"  stroke="#050505" stroke-width="0.22">C</text>
<text x="585.10" y="346.30" font-size="9" font-weight="bold" fill="#050505" text-anchor="middle"  stroke="#050505" stroke-width="0.22">N</text>
<text x="614.00" y="347.30" font-size="9" font-weight="bold" fill="#050505" text-anchor="middle"  stroke="#050505" stroke-width="0.22">O</text>
<text x="623.90" y="283.40" font-size="9" font-weight="normal" fill="#f2a84e" stroke="#f2a84e" stroke-width="0.42" textLength="44.2" lengthAdjust="spacingAndGlyphs" >HS-Pt-CDs</text>
<text x="591.10" y="323.80" font-size="9" font-weight="normal" fill="#6a9ad0" stroke="#6a9ad0" stroke-width="0.42" textLength="77.1" lengthAdjust="spacingAndGlyphs" >HS-Pt-CDs+690nm</text>
<text x="593.60" y="366.60" font-size="9" font-weight="normal" fill="#e8868a" stroke="#e8868a" stroke-width="0.42" textLength="72.6" lengthAdjust="spacingAndGlyphs" >Released species</text>
<text x="10.10" y="439.30" font-size="14" font-weight="bold" fill="#050505"  stroke="#050505" stroke-width="0.22">g</text>
<polyline points="37.30,482.52 38.10,483.43 38.90,486.93 39.70,483.57 40.50,479.86 41.30,485.49 42.10,480.36 42.90,481.11 43.70,482.80 44.50,481.77 45.30,479.99 46.10,482.07 46.90,481.74 47.70,483.74 48.50,474.00 49.30,480.93 50.10,484.78 50.90,486.20 51.70,479.08 52.50,483.55 53.30,480.07 54.10,477.42 54.90,480.18 55.70,481.06 56.50,480.85 57.30,483.31 58.10,481.87 58.90,478.20 59.70,482.05 60.50,481.31 61.30,483.11 62.10,480.03 62.90,481.26 63.70,480.96 64.50,480.95 65.30,481.47 66.10,481.23 66.90,483.48 67.70,480.33 68.50,483.63 69.30,479.52 70.10,478.97 70.90,479.99 71.70,480.32 72.50,479.96 73.30,481.94 74.10,481.46 74.90,479.93 75.70,477.94 76.50,478.05 77.30,480.73 78.10,477.59 78.90,473.58 79.70,474.04 80.50,473.39 81.30,476.16 82.10,472.68 82.90,476.86 83.70,472.71 84.50,470.81 85.30,468.85 86.10,471.01 86.90,467.65 87.70,465.58 88.50,467.63 89.30,465.55 90.10,467.06 90.90,463.43 91.70,456.59 92.50,463.27 93.30,456.70 94.10,462.91 94.90,462.54 95.70,456.86 96.50,454.35 97.30,452.91 98.10,456.71 98.90,455.78 99.70,451.63 100.50,451.37 101.30,455.29 102.10,450.69 102.90,450.67 103.70,450.03 104.50,449.99 105.30,449.81 106.10,446.01 106.90,447.11 107.70,446.16 108.50,446.51 109.30,450.66 110.10,447.48 110.90,448.64 111.70,447.65 112.50,448.17 113.30,451.38 114.10,449.09 114.90,449.25 115.70,451.50 116.50,451.76 117.30,452.73 118.10,451.96 118.90,450.04 119.70,454.76 120.50,455.56 121.30,457.74 122.10,454.84 122.90,462.86 123.70,455.89 124.50,460.71 125.30,459.70 126.10,458.76 126.90,461.41 127.70,458.65 128.50,453.31 129.30,454.17 130.10,455.76 130.90,456.99 131.70,448.83 132.50,450.87 133.30,456.10 134.10,450.72 134.90,448.18 135.70,445.64 136.50,444.62 137.30,446.58 138.10,447.21 138.90,443.17 139.70,444.32 140.50,448.54 141.30,447.10 142.10,446.42 142.90,447.19 143.70,446.38 144.50,450.07 145.30,451.65 146.10,452.67 146.90,449.97 147.70,450.29 148.50,452.09 149.30,453.03 150.10,444.46 150.90,452.97 151.70,449.78 152.50,448.51 153.30,454.56 154.10,453.49 154.90,454.74 155.70,454.48 156.50,455.46 157.30,463.20 158.10,463.22 158.90,461.93 159.70,467.81 160.50,468.57 161.30,470.69 162.10,475.84 162.90,472.45 163.70,470.94 164.50,474.59 165.30,473.89 166.10,474.90 166.90,476.66 167.70,477.15 168.50,475.30 169.30,477.34 170.10,475.28 170.90,477.29 171.70,475.40 172.50,473.51 173.30,479.61 174.10,474.13 174.90,481.08 175.70,476.39 176.50,476.40 177.30,475.58 178.10,475.22 178.90,470.30 179.70,477.85 180.50,473.58 181.30,477.30 182.10,473.96 182.90,475.04 183.70,474.93 184.50,473.28 185.30,475.19 186.10,467.09 186.90,474.97 187.70,473.35 188.50,475.00 189.30,476.94 190.10,479.03 190.90,478.60 191.70,477.68 192.50,475.22 193.30,479.44 194.10,484.83 194.90,473.50 195.70,480.12 196.50,479.75 197.30,479.75 198.10,476.55 198.90,477.96 199.70,475.90 200.50,480.11 201.30,479.94 202.10,481.89 202.90,480.44 203.70,479.07 204.50,484.10 205.30,477.23 206.10,476.22 206.90,477.36 207.70,479.30 208.50,477.03 209.30,476.43 210.10,474.60 210.90,479.70 211.70,474.94 212.50,473.62 213.30,475.28 214.10,473.48 214.90,480.26" fill="none" stroke="#f2a84e" stroke-width="1.7" stroke-linejoin="round" stroke-linecap="round" />
<polyline points="37.30,528.78 38.10,529.59 38.90,526.84 39.70,526.38 40.50,528.42 41.30,531.38 42.10,528.29 42.90,529.03 43.70,528.02 44.50,528.31 45.30,528.43 46.10,527.10 46.90,523.69 47.70,528.47 48.50,526.10 49.30,525.82 50.10,526.34 50.90,527.57 51.70,524.89 52.50,525.99 53.30,527.36 54.10,525.55 54.90,528.91 55.70,526.61 56.50,524.98 57.30,527.32 58.10,527.35 58.90,525.58 59.70,526.17 60.50,529.61 61.30,529.56 62.10,527.19 62.90,529.04 63.70,529.90 64.50,521.89 65.30,528.39 66.10,526.88 66.90,527.46 67.70,523.48 68.50,522.52 69.30,524.67 70.10,525.61 70.90,526.02 71.70,522.79 72.50,525.48 73.30,524.09 74.10,520.45 74.90,521.91 75.70,518.33 76.50,519.21 77.30,513.89 78.10,515.22 78.90,514.48 79.70,510.75 80.50,512.71 81.30,508.72 82.10,506.54 82.90,503.82 83.70,506.17 84.50,505.39 85.30,507.07 86.10,506.96 86.90,505.29 87.70,506.77 88.50,507.94 89.30,508.49 90.10,505.81 90.90,510.54 91.70,507.26 92.50,504.03 93.30,505.57 94.10,506.53 94.90,507.69 95.70,507.78 96.50,505.31 97.30,501.65 98.10,502.77 98.90,502.93 99.70,500.21 100.50,503.86 101.30,498.58 102.10,498.88 102.90,496.05 103.70,496.89 104.50,495.24 105.30,495.28 106.10,495.33 106.90,496.59 107.70,497.65 108.50,499.32 109.30,495.88 110.10,496.73 110.90,496.31 111.70,499.41 112.50,497.01 113.30,497.54 114.10,497.56 114.90,502.94 115.70,497.31 116.50,500.68 117.30,498.04 118.10,498.25 118.90,499.28 119.70,497.32 120.50,499.00 121.30,497.71 122.10,497.88 122.90,497.98 123.70,500.41 124.50,500.38 125.30,498.58 126.10,503.55 126.90,505.15 127.70,502.30 128.50,504.32 129.30,507.83 130.10,502.32 130.90,502.13 131.70,506.18 132.50,503.53 133.30,504.54 134.10,498.18 134.90,502.07 135.70,503.08 136.50,500.05 137.30,494.13 138.10,498.17 138.90,495.88 139.70,495.74 140.50,496.42 141.30,496.32 142.10,493.92 142.90,492.93 143.70,495.99 144.50,494.54 145.30,496.02 146.10,499.46 146.90,500.44 147.70,499.28 148.50,500.41 149.30,503.58 150.10,506.93 150.90,500.68 151.70,507.71 152.50,506.75 153.30,507.44 154.10,508.03 154.90,510.29 155.70,512.54 156.50,510.57 157.30,511.87 158.10,515.78 158.90,516.68 159.70,515.79 160.50,518.37 161.30,524.15 162.10,521.95 162.90,520.99 163.70,520.85 164.50,521.56 165.30,523.08 166.10,517.15 166.90,520.25 167.70,524.57 168.50,521.83 169.30,521.03 170.10,521.06 170.90,523.32 171.70,523.22 172.50,523.70 173.30,521.46 174.10,522.20 174.90,522.06 175.70,521.41 176.50,520.20 177.30,522.25 178.10,521.19 178.90,524.89 179.70,524.58 180.50,521.72 181.30,523.60 182.10,524.50 182.90,517.79 183.70,523.49 184.50,518.69 185.30,522.03 186.10,522.94 186.90,520.53 187.70,526.18 188.50,520.94 189.30,524.84 190.10,523.45 190.90,522.80 191.70,520.49 192.50,524.26 193.30,519.86 194.10,523.90 194.90,520.97 195.70,522.63 196.50,523.79 197.30,520.69 198.10,518.90 198.90,519.71 199.70,520.89 200.50,522.12 201.30,520.59 202.10,520.36 202.90,521.59 203.70,524.16 204.50,524.92 205.30,519.82 206.10,521.80 206.90,522.67 207.70,515.51 208.50,521.00 209.30,520.65 210.10,521.57 210.90,523.44 211.70,520.60 212.50,522.14 213.30,524.86 214.10,520.30 214.90,523.15" fill="none" stroke="#6596c8" stroke-width="1.7" stroke-linejoin="round" stroke-linecap="round" />
<polyline points="66.30,528.44 66.80,528.33 67.30,528.21 67.80,528.06 68.30,527.90 68.80,527.71 69.30,527.50 69.80,527.26 70.30,526.98 70.80,526.68 71.30,526.34 71.80,525.96 72.30,525.54 72.80,525.08 73.30,524.58 73.80,524.04 74.30,523.45 74.80,522.82 75.30,522.16 75.80,521.45 76.30,520.72 76.80,519.95 77.30,519.15 77.80,518.34 78.30,517.52 78.80,516.69 79.30,515.86 79.80,515.04 80.30,514.25 80.80,513.48 81.30,512.76 81.80,512.08 82.30,511.45 82.80,510.90 83.30,510.41 83.80,510.01 84.30,509.69 84.80,509.45 85.30,509.32 85.80,509.27 86.30,509.32 86.80,509.47 87.30,509.70 87.80,510.03 88.30,510.43 88.80,510.92 89.30,511.47 89.80,512.08 90.30,512.75 90.80,513.46 91.30,514.21 91.80,514.99 92.30,515.78 92.80,516.57 93.30,517.37 93.80,518.16 94.30,518.93 94.80,519.69 95.30,520.41 95.80,521.11 96.30,521.76 96.80,522.38 97.30,522.96 97.80,523.50 98.30,523.99 98.80,524.45 99.30,524.86 99.80,525.23 100.30,525.56 100.80,525.86 101.30,526.12 101.80,526.35 102.30,526.54 102.80,526.72 103.30,526.86 103.80,526.99 104.30,527.09 104.80,527.18" fill="none" stroke="#3aa64a" stroke-width="1.7" stroke-linejoin="round" stroke-linecap="round" />
<polyline points="82.80,527.65 83.30,527.49 83.80,527.30 84.30,527.08 84.80,526.82 85.30,526.53 85.80,526.20 86.30,525.82 86.80,525.40 87.30,524.92 87.80,524.39 88.30,523.80 88.80,523.15 89.30,522.43 89.80,521.65 90.30,520.80 90.80,519.89 91.30,518.91 91.80,517.87 92.30,516.78 92.80,515.63 93.30,514.44 93.80,513.21 94.30,511.95 94.80,510.67 95.30,509.39 95.80,508.12 96.30,506.87 96.80,505.65 97.30,504.48 97.80,503.37 98.30,502.34 98.80,501.41 99.30,500.57 99.80,499.85 100.30,499.26 100.80,498.79 101.30,498.47 101.80,498.29 102.30,498.26 102.80,498.38 103.30,498.64 103.80,499.05 104.30,499.58 104.80,500.25 105.30,501.03 105.80,501.92 106.30,502.90 106.80,503.96 107.30,505.09 107.80,506.26 108.30,507.48 108.80,508.72 109.30,509.97 109.80,511.21 110.30,512.44 110.80,513.65 111.30,514.82 111.80,515.94 112.30,517.02 112.80,518.03 113.30,518.99 113.80,519.89 114.30,520.72 114.80,521.48 115.30,522.18 115.80,522.81 116.30,523.39 116.80,523.90 117.30,524.36 117.80,524.76 118.30,525.11 118.80,525.42 119.30,525.69 119.80,525.92 120.30,526.11 120.80,526.28 121.30,526.42" fill="none" stroke="#ac7cc6" stroke-width="1.7" stroke-linejoin="round" stroke-linecap="round" />
<polyline points="104.30,527.10 104.80,526.96 105.30,526.80 105.80,526.62 106.30,526.41 106.80,526.17 107.30,525.90 107.80,525.60 108.30,525.25 108.80,524.87 109.30,524.44 109.80,523.96 110.30,523.44 110.80,522.87 111.30,522.24 111.80,521.57 112.30,520.85 112.80,520.08 113.30,519.26 113.80,518.40 114.30,517.50 114.80,516.57 115.30,515.62 115.80,514.65 116.30,513.66 116.80,512.68 117.30,511.70 117.80,510.75 118.30,509.83 118.80,508.95 119.30,508.12 119.80,507.35 120.30,506.66 120.80,506.05 121.30,505.53 121.80,505.11 122.30,504.80 122.80,504.59 123.30,504.50 123.80,504.51 124.30,504.65 124.80,504.89 125.30,505.23 125.80,505.68 126.30,506.22 126.80,506.85 127.30,507.56 127.80,508.33 128.30,509.16 128.80,510.04 129.30,510.95 129.80,511.89 130.30,512.84 130.80,513.79 131.30,514.74 131.80,515.67 132.30,516.58 132.80,517.46 133.30,518.30 133.80,519.10 134.30,519.86 134.80,520.57 135.30,521.23 135.80,521.85 136.30,522.41 136.80,522.92 137.30,523.38 137.80,523.80 138.30,524.17 138.80,524.50 139.30,524.79 139.80,525.04 140.30,525.26 140.80,525.45 141.30,525.61 141.80,525.75 142.30,525.86 142.80,525.96" fill="none" stroke="#3aa64a" stroke-width="1.7" stroke-linejoin="round" stroke-linecap="round" />
<polyline points="124.80,526.42 125.30,526.27 125.80,526.11 126.30,525.91 126.80,525.69 127.30,525.44 127.80,525.15 128.30,524.82 128.80,524.45 129.30,524.04 129.80,523.58 130.30,523.06 130.80,522.50 131.30,521.88 131.80,521.20 132.30,520.46 132.80,519.66 133.30,518.81 133.80,517.90 134.30,516.94 134.80,515.93 135.30,514.87 135.80,513.78 136.30,512.66 136.80,511.51 137.30,510.36 137.80,509.20 138.30,508.05 138.80,506.92 139.30,505.83 139.80,504.78 140.30,503.79 140.80,502.87 141.30,502.03 141.80,501.29 142.30,500.65 142.80,500.12 143.30,499.71 143.80,499.42 144.30,499.26 144.80,499.23 145.30,499.33 145.80,499.56 146.30,499.92 146.80,500.39 147.30,500.98 147.80,501.68 148.30,502.46 148.80,503.34 149.30,504.28 149.80,505.29 150.30,506.34 150.80,507.43 151.30,508.55 151.80,509.67 152.30,510.80 152.80,511.92 153.30,513.01 153.80,514.08 154.30,515.11 154.80,516.10 155.30,517.04 155.80,517.93 156.30,518.76 156.80,519.54 157.30,520.26 157.80,520.92 158.30,521.52 158.80,522.06 159.30,522.56 159.80,523.00 160.30,523.39 160.80,523.74 161.30,524.04 161.80,524.30 162.30,524.53 162.80,524.73 163.30,524.90 163.80,525.04 164.30,525.16" fill="none" stroke="#ac7cc6" stroke-width="1.7" stroke-linejoin="round" stroke-linecap="round" />
<polyline points="35.50,530.00 215.60,524.20" fill="none" stroke="#b9b9b9" stroke-width="2.2" stroke-linejoin="round" stroke-linecap="round" />
<polyline points="37.30,529.28 37.80,529.26 38.30,529.24 38.80,529.22 39.30,529.21 39.80,529.19 40.30,529.17 40.80,529.15 41.30,529.13 41.80,529.11 42.30,529.10 42.80,529.08 43.30,529.06 43.80,529.04 44.30,529.02 44.80,529.00 45.30,528.99 45.80,528.97 46.30,528.95 46.80,528.93 47.30,528.91 47.80,528.89 48.30,528.87 48.80,528.85 49.30,528.83 49.80,528.81 50.30,528.79 50.80,528.76 51.30,528.74 51.80,528.72 52.30,528.70 52.80,528.67 53.30,528.65 53.80,528.63 54.30,528.60 54.80,528.58 55.30,528.55 55.80,528.53 56.30,528.50 56.80,528.48 57.30,528.45 57.80,528.42 58.30,528.40 58.80,528.37 59.30,528.34 59.80,528.31 60.30,528.28 60.80,528.26 61.30,528.23 61.80,528.21 62.30,528.18 62.80,528.16 63.30,528.13 63.80,528.11 64.30,528.08 64.80,528.04 65.30,528.01 65.80,527.97 66.30,527.91 66.80,527.85 67.30,527.78 67.80,527.69 68.30,527.59 68.80,527.46 69.30,527.32 69.80,527.12 70.30,526.89 70.80,526.61 71.30,526.30 71.80,525.97 72.30,525.59 72.80,525.20 73.30,524.73 73.80,524.23 74.30,523.64 74.80,522.93 75.30,522.10 75.80,521.11 76.30,520.01 76.80,518.93 77.30,517.89 77.80,516.86 78.30,515.81 78.80,514.76 79.30,513.70 79.80,512.57 80.30,511.39 80.80,510.28 81.30,509.35 81.80,508.58 82.30,507.93 82.80,507.41 83.30,507.05 83.80,506.87 84.30,506.81 84.80,506.83 85.30,506.96 85.80,507.10 86.30,507.27 86.80,507.45 87.30,507.59 87.80,507.72 88.30,507.85 88.80,507.98 89.30,508.10 89.80,508.24 90.30,508.37 90.80,508.51 91.30,508.59 91.80,508.66 92.30,508.73 92.80,508.65 93.30,508.57 93.80,508.43 94.30,508.10 94.80,507.77 95.30,507.30 95.80,506.77 96.30,506.21 96.80,505.58 97.30,504.95 97.80,504.35 98.30,503.74 98.80,503.14 99.30,502.54 99.80,501.93 100.30,501.28 100.80,500.64 101.30,500.01 101.80,499.40 102.30,498.80 102.80,498.30 103.30,497.80 103.80,497.40 104.30,497.03 104.80,496.74 105.30,496.47 105.80,496.33 106.30,496.21 106.80,496.20 107.30,496.20 107.80,496.30 108.30,496.42 108.80,496.57 109.30,496.79 109.80,497.01 110.30,497.25 110.80,497.50 111.30,497.75 111.80,497.98 112.30,498.20 112.80,498.41 113.30,498.61 113.80,498.80 114.30,498.99 114.80,499.18 115.30,499.37 115.80,499.55 116.30,499.74 116.80,499.90 117.30,500.06 117.80,500.22 118.30,500.35 118.80,500.46 119.30,500.58 119.80,500.59 120.30,500.57 120.80,500.53 121.30,500.39 121.80,500.26 122.30,500.15 122.80,500.04 123.30,500.04 123.80,500.13 124.30,500.28 124.80,500.69 125.30,501.10 125.80,501.68 126.30,502.30 126.80,502.92 127.30,503.52 127.80,504.13 128.30,504.49 128.80,504.85 129.30,505.04 129.80,505.11 130.30,505.14 130.80,505.03 131.30,504.92 131.80,504.70 132.30,504.46 132.80,504.19 133.30,503.88 133.80,503.56 134.30,503.15 134.80,502.71 135.30,502.26 135.80,501.71 136.30,501.16 136.80,500.60 137.30,500.06 137.80,499.51 138.30,499.00 138.80,498.59 139.30,498.17 139.80,497.83 140.30,497.55 140.80,497.28 141.30,497.09 141.80,496.90 142.30,496.84 142.80,496.81 143.30,496.87 143.80,497.03 144.30,497.20 144.80,497.57 145.30,497.93 145.80,498.35 146.30,498.88 146.80,499.41 147.30,500.00 147.80,500.64 148.30,501.28 148.80,501.96 149.30,502.66 149.80,503.36 150.30,504.13 150.80,504.91 151.30,505.70 151.80,506.53 152.30,507.39 152.80,508.26 153.30,509.13 153.80,510.01 154.30,510.90 154.80,511.78 155.30,512.64 155.80,513.49 156.30,514.33 156.80,515.11 157.30,515.88 157.80,516.62 158.30,517.33 158.80,518.00 159.30,518.64 159.80,519.26 160.30,519.85 160.80,520.42 161.30,520.94 161.80,521.41 162.30,521.83 162.80,522.20 163.30,522.50 163.80,522.76 164.30,522.99 164.80,523.18 165.30,523.36 165.80,523.53 166.30,523.71 166.80,523.89 167.30,524.07 167.80,524.22 168.30,524.35 168.80,524.44 169.30,524.51 169.80,524.57 170.30,524.62 170.80,524.66 171.30,524.70 171.80,524.74 172.30,524.76 172.80,524.78 173.30,524.80 173.80,524.82 174.30,524.84 174.80,524.85 175.30,524.86 175.80,524.87 176.30,524.88 176.80,524.88 177.30,524.89 177.80,524.89 178.30,524.89 178.80,524.89 179.30,524.90 179.80,524.90 180.30,524.90 180.80,524.89 181.30,524.89 181.80,524.89 182.30,524.88 182.80,524.88 183.30,524.88 183.80,524.87 184.30,524.87 184.80,524.86 185.30,524.85 185.80,524.85 186.30,524.84 186.80,524.83 187.30,524.82 187.80,524.82 188.30,524.81 188.80,524.80 189.30,524.79 189.80,524.78 190.30,524.78 190.80,524.77 191.30,524.76 191.80,524.75 192.30,524.74 192.80,524.73 193.30,524.72 193.80,524.71 194.30,524.70 194.80,524.69 195.30,524.68 195.80,524.68 196.30,524.67 196.80,524.66 197.30,524.65 197.80,524.64 198.30,524.63 198.80,524.62 199.30,524.61 199.80,524.60 200.30,524.59 200.80,524.59 201.30,524.58 201.80,524.57 202.30,524.56 202.80,524.55 203.30,524.54 203.80,524.53 204.30,524.52 204.80,524.51 205.30,524.50 205.80,524.49 206.30,524.48 206.80,524.47 207.30,524.47 207.80,524.46 208.30,524.45 208.80,524.44 209.30,524.43 209.80,524.42 210.30,524.41 210.80,524.40 211.30,524.39 211.80,524.38 212.30,524.37 212.80,524.36 213.30,524.35 213.80,524.34 214.30,524.33 214.80,524.32" fill="none" stroke="#9fd6b4" stroke-width="1.8" stroke-linejoin="round" stroke-linecap="round" />
<polyline points="37.30,568.24 38.10,568.12 38.90,568.88 39.70,568.47 40.50,568.15 41.30,568.74 42.10,567.92 42.90,568.84 43.70,568.36 44.50,568.19 45.30,567.83 46.10,568.32 46.90,568.29 47.70,569.36 48.50,567.80 49.30,567.89 50.10,568.01 50.90,568.32 51.70,568.31 52.50,567.25 53.30,567.78 54.10,568.64 54.90,567.89 55.70,567.77 56.50,568.56 57.30,568.32 58.10,567.07 58.90,568.43 59.70,567.88 60.50,566.80 61.30,567.87 62.10,567.40 62.90,567.21 63.70,567.02 64.50,566.00 65.30,566.84 66.10,565.80 66.90,566.09 67.70,566.62 68.50,566.02 69.30,565.63 70.10,565.00 70.90,564.65 71.70,564.63 72.50,565.09 73.30,562.92 74.10,562.56 74.90,561.18 75.70,559.71 76.50,557.98 77.30,556.15 78.10,554.20 78.90,550.59 79.70,549.20 80.50,548.34 81.30,546.45 82.10,544.69 82.90,544.23 83.70,542.91 84.50,542.25 85.30,542.06 86.10,541.09 86.90,541.44 87.70,540.86 88.50,542.38 89.30,543.40 90.10,544.37 90.90,546.05 91.70,546.75 92.50,548.67 93.30,549.76 94.10,551.17 94.90,552.01 95.70,553.66 96.50,554.44 97.30,555.13 98.10,556.54 98.90,557.49 99.70,558.88 100.50,559.22 101.30,559.11 102.10,560.02 102.90,561.41 103.70,560.89 104.50,562.28 105.30,562.11 106.10,562.78 106.90,561.86 107.70,562.40 108.50,561.56 109.30,562.22 110.10,561.90 110.90,560.84 111.70,560.71 112.50,559.73 113.30,559.32 114.10,558.28 114.90,556.65 115.70,555.95 116.50,554.61 117.30,553.15 118.10,551.99 118.90,550.57 119.70,550.60 120.50,549.48 121.30,549.35 122.10,547.60 122.90,548.52 123.70,547.44 124.50,548.40 125.30,548.04 126.10,548.10 126.90,547.98 127.70,547.59 128.50,548.08 129.30,548.98 130.10,549.63 130.90,549.32 131.70,550.39 132.50,550.55 133.30,551.86 134.10,552.06 134.90,553.51 135.70,554.81 136.50,556.13 137.30,555.71 138.10,557.53 138.90,558.07 139.70,558.16 140.50,559.17 141.30,559.48 142.10,561.08 142.90,561.22 143.70,562.00 144.50,563.47 145.30,563.48 146.10,564.33 146.90,564.31 147.70,565.25 148.50,565.42 149.30,565.05 150.10,565.01 150.90,564.74 151.70,565.98 152.50,565.53 153.30,565.25 154.10,566.06 154.90,564.57 155.70,566.52 156.50,565.32 157.30,565.47 158.10,566.66 158.90,565.92 159.70,566.23 160.50,566.14 161.30,565.68 162.10,566.74 162.90,566.00 163.70,565.39 164.50,565.91 165.30,566.03 166.10,566.19 166.90,566.50 167.70,566.16 168.50,566.82 169.30,566.06 170.10,565.96 170.90,566.57 171.70,566.42 172.50,566.71 173.30,566.47 174.10,566.23 174.90,566.68 175.70,566.69 176.50,565.93 177.30,566.61 178.10,567.24 178.90,566.44 179.70,565.85 180.50,566.34 181.30,566.14 182.10,566.56 182.90,566.35 183.70,567.30 184.50,566.79 185.30,566.25 186.10,566.44 186.90,566.31 187.70,565.67 188.50,566.57 189.30,566.15 190.10,564.82 190.90,566.44 191.70,565.83 192.50,566.41 193.30,566.32 194.10,567.19 194.90,566.30 195.70,565.51 196.50,565.88 197.30,566.22 198.10,566.30 198.90,566.66 199.70,566.61 200.50,566.19 201.30,565.65 202.10,565.43 202.90,566.17 203.70,565.85 204.50,565.66 205.30,566.88 206.10,565.82 206.90,565.21 207.70,565.97 208.50,566.45 209.30,565.43 210.10,565.30 210.90,565.48 211.70,565.97 212.50,565.27 213.30,565.22 214.10,565.74 214.90,566.36" fill="none" stroke="#e27a7e" stroke-width="1.7" stroke-linejoin="round" stroke-linecap="round" />
<rect x="37.00" y="435.00" width="178.60" height="143.90" fill="none" stroke="#050505" stroke-width="1.9"/>
<line x1="37.00" y1="578.90" x2="37.00" y2="581.70" stroke="#050505" stroke-width="1.6" stroke-linecap="butt"/>
<text x="37.00" y="595.00" font-size="10.3" font-weight="bold" fill="#050505" text-anchor="middle"  stroke="#050505" stroke-width="0.22">68</text>
<line x1="59.33" y1="578.90" x2="59.33" y2="581.70" stroke="#050505" stroke-width="1.6" stroke-linecap="butt"/>
<text x="59.33" y="595.00" font-size="10.3" font-weight="bold" fill="#050505" text-anchor="middle"  stroke="#050505" stroke-width="0.22">70</text>
<line x1="81.65" y1="578.90" x2="81.65" y2="581.70" stroke="#050505" stroke-width="1.6" stroke-linecap="butt"/>
<text x="81.65" y="595.00" font-size="10.3" font-weight="bold" fill="#050505" text-anchor="middle"  stroke="#050505" stroke-width="0.22">72</text>
<line x1="103.97" y1="578.90" x2="103.97" y2="581.70" stroke="#050505" stroke-width="1.6" stroke-linecap="butt"/>
<text x="103.97" y="595.00" font-size="10.3" font-weight="bold" fill="#050505" text-anchor="middle"  stroke="#050505" stroke-width="0.22">74</text>
<line x1="126.30" y1="578.90" x2="126.30" y2="581.70" stroke="#050505" stroke-width="1.6" stroke-linecap="butt"/>
<text x="126.30" y="595.00" font-size="10.3" font-weight="bold" fill="#050505" text-anchor="middle"  stroke="#050505" stroke-width="0.22">76</text>
<line x1="148.62" y1="578.90" x2="148.62" y2="581.70" stroke="#050505" stroke-width="1.6" stroke-linecap="butt"/>
<text x="148.62" y="595.00" font-size="10.3" font-weight="bold" fill="#050505" text-anchor="middle"  stroke="#050505" stroke-width="0.22">78</text>
<line x1="170.95" y1="578.90" x2="170.95" y2="581.70" stroke="#050505" stroke-width="1.6" stroke-linecap="butt"/>
<text x="170.95" y="595.00" font-size="10.3" font-weight="bold" fill="#050505" text-anchor="middle"  stroke="#050505" stroke-width="0.22">80</text>
<line x1="193.28" y1="578.90" x2="193.28" y2="581.70" stroke="#050505" stroke-width="1.6" stroke-linecap="butt"/>
<text x="193.28" y="595.00" font-size="10.3" font-weight="bold" fill="#050505" text-anchor="middle"  stroke="#050505" stroke-width="0.22">82</text>
<line x1="215.60" y1="578.90" x2="215.60" y2="581.70" stroke="#050505" stroke-width="1.6" stroke-linecap="butt"/>
<text x="215.60" y="595.00" font-size="10.3" font-weight="bold" fill="#050505" text-anchor="middle"  stroke="#050505" stroke-width="0.22">84</text>
<line x1="48.16" y1="578.90" x2="48.16" y2="580.60" stroke="#050505" stroke-width="1.2" stroke-linecap="butt"/>
<line x1="70.49" y1="578.90" x2="70.49" y2="580.60" stroke="#050505" stroke-width="1.2" stroke-linecap="butt"/>
<line x1="92.81" y1="578.90" x2="92.81" y2="580.60" stroke="#050505" stroke-width="1.2" stroke-linecap="butt"/>
<line x1="115.14" y1="578.90" x2="115.14" y2="580.60" stroke="#050505" stroke-width="1.2" stroke-linecap="butt"/>
<line x1="137.46" y1="578.90" x2="137.46" y2="580.60" stroke="#050505" stroke-width="1.2" stroke-linecap="butt"/>
<line x1="159.79" y1="578.90" x2="159.79" y2="580.60" stroke="#050505" stroke-width="1.2" stroke-linecap="butt"/>
<line x1="182.11" y1="578.90" x2="182.11" y2="580.60" stroke="#050505" stroke-width="1.2" stroke-linecap="butt"/>
<line x1="204.44" y1="578.90" x2="204.44" y2="580.60" stroke="#050505" stroke-width="1.2" stroke-linecap="butt"/>
<text x="126.20" y="611.70" font-size="10.3" font-weight="bold" fill="#050505" text-anchor="middle"  stroke="#050505" stroke-width="0.22">Binding energy (eV)</text>
<text x="30.80" y="502.80" font-size="10.3" font-weight="bold" fill="#050505" text-anchor="middle" transform="rotate(-90 30.80 502.80)"  stroke="#050505" stroke-width="0.22">Counts</text>
<text x="40.20" y="450.00" font-size="9" font-weight="normal" fill="#f2a84e" stroke="#f2a84e" stroke-width="0.42" textLength="44.2" lengthAdjust="spacingAndGlyphs" >HS-Pt-CDs</text>
<text x="39.90" y="492.00" font-size="9" font-weight="normal" fill="#6a9ad0" stroke="#6a9ad0" stroke-width="0.42" textLength="77.6" lengthAdjust="spacingAndGlyphs" >HS-Pt-CDs+690nm</text>
<text x="40.00" y="538.60" font-size="9" font-weight="normal" fill="#e8868a" stroke="#e8868a" stroke-width="0.42" textLength="73.4" lengthAdjust="spacingAndGlyphs" >Released species</text>
<text x="195.9" y="468.5" font-size="8.7" font-weight="bold" fill="#050505" stroke="#050505" stroke-width="0.22">Pt<tspan font-size="5.9" dy="-3.9">4+</tspan></text>
<text x="162.3" y="514.5" font-size="8.7" font-weight="bold" fill="#050505" textLength="49.4" lengthAdjust="spacingAndGlyphs" stroke="#050505" stroke-width="0.22">Pt<tspan font-size="5.9" dy="-3.9">4+</tspan><tspan dy="3.9"> and Pt</tspan><tspan font-size="5.9" dy="-3.9">2+</tspan></text>
<text x="193.6" y="560.3" font-size="8.7" font-weight="bold" fill="#050505" stroke="#050505" stroke-width="0.22">Pt<tspan font-size="5.9" dy="-3.9">2+</tspan></text>
<text x="64.3" y="548.4" font-size="9" font-weight="bold" fill="#050505" stroke="#050505" stroke-width="0.22">4<tspan font-style="italic">f</tspan><tspan font-size="6.3" dy="2.2">7/2</tspan></text>
<text x="123.3" y="544.5" font-size="9" font-weight="bold" fill="#050505" stroke="#050505" stroke-width="0.22">4<tspan font-style="italic">f</tspan><tspan font-size="6.3" dy="2.2">5/2</tspan></text>
<text x="235.60" y="438.60" font-size="14" font-weight="bold" fill="#050505"  stroke="#050505" stroke-width="0.22">h</text>
<text x="258.60" y="450.00" font-size="10" font-weight="bold" fill="#050505" textLength="91.4" lengthAdjust="spacingAndGlyphs"  stroke="#050505" stroke-width="0.22">Intrinsic core state</text>
<rect x="242.10" y="456.00" width="49.80" height="10.00" fill="#f2c12e" rx="1.5" />
<rect x="313.70" y="455.80" width="50.40" height="10.00" fill="#f2c12e" rx="1.5" />
<rect x="242.10" y="582.10" width="49.70" height="9.90" fill="#8196bf" rx="1.5" />
<rect x="313.70" y="582.20" width="225.40" height="9.70" fill="#8196bf" rx="1.5" />
<line x1="253.60" y1="591.00" x2="253.60" y2="463.90" stroke="#1f6db4" stroke-width="2.7" stroke-linecap="butt"/>
<path d="M249.00,464.40 L258.20,464.40 L253.60,456.40 Z" fill="#1f6db4" stroke="none" stroke-width="1" />
<line x1="326.20" y1="591.00" x2="326.20" y2="463.90" stroke="#1f6db4" stroke-width="2.7" stroke-linecap="butt"/>
<path d="M321.60,464.40 L330.80,464.40 L326.20,456.40 Z" fill="#1f6db4" stroke="none" stroke-width="1" />
<line x1="275.40" y1="465.80" x2="275.40" y2="574.50" stroke="#e3141e" stroke-width="2.6" stroke-linecap="butt"/>
<path d="M271.00,574.00 L279.80,574.00 L275.40,581.50 Z" fill="#e3141e" stroke="none" stroke-width="1" />
<text x="296.20" y="592.20" font-size="10" font-weight="bold" fill="#050505"  stroke="#050505" stroke-width="0.22">GS</text>
<text x="267.30" y="604.40" font-size="10" font-weight="bold" fill="#050505" text-anchor="middle"  stroke="#050505" stroke-width="0.22">Pt-CDs</text>
<path d="M276.4,526.8 L281.8,526.8 Q283.4,526.5 284.2,524.6" fill="none" stroke="#b71c24" stroke-width="2.9" stroke-linejoin="round" stroke-linecap="round"/>
<path d="M283.0,526.6 L285.4,512.9 L287.3,523.6 Z" fill="#b71c24" stroke="#b71c24" stroke-width="0.8" stroke-linejoin="round" stroke-linecap="round"/>
<path d="M286.8,522.8 L287.9,522.4" fill="none" stroke="#b71c24" stroke-width="2.6" stroke-linejoin="round" stroke-linecap="round"/>
<path d="M287.0,522.6 L288.4,540.6 L291.6,523.4 Z" fill="#b71c24" stroke="#b71c24" stroke-width="0.8" stroke-linejoin="round" stroke-linecap="round"/>
<path d="M291.0,523.6 L292.6,522.9 L294.1,523.9 L295.0,528.6 L296.9,525.9 L299.5,525.2" fill="none" stroke="#b71c24" stroke-width="2.5" stroke-linejoin="round" stroke-linecap="round"/>
<path d="M298.3,520.5 L308.3,524.4 L299.2,530.2 L300.6,525.4 Z" fill="#b71c24" stroke="#b71c24" stroke-width="0.7" stroke-linejoin="round" stroke-linecap="round"/>
<text x="387.80" y="442.80" font-size="10" font-weight="bold" fill="#050505"  stroke="#050505" stroke-width="0.22">ET</text>
<path d="M366.3,455.4 C372,450.6 378,448.3 384.5,448.4 C390,448.6 394.5,451 398.2,455.2 L413.6,473.4" fill="none" stroke="#1b2256" stroke-width="3.0" stroke-linecap="butt"/>
<path d="M409.4,475.3 L416.0,469.6 L417.3,477.9 Z" fill="#1b2256" stroke="none" stroke-width="1" />
<text x="428.90" y="474.20" font-size="10" font-weight="bold" fill="#050505" textLength="91.2" lengthAdjust="spacingAndGlyphs"  stroke="#050505" stroke-width="0.22">J-aggregated state</text>
<rect x="414.10" y="481.20" width="125.30" height="11.40" fill="#e6281f" rx="2" />
<line x1="432.30" y1="493.20" x2="432.30" y2="574.70" stroke="#e3141e" stroke-width="2.6" stroke-linecap="butt"/>
<path d="M428.10,574.20 L436.50,574.20 L432.30,582.00 Z" fill="#e3141e" stroke="none" stroke-width="1" />
<text x="447.00" y="536.40" font-size="10" font-weight="bold" fill="#050505" text-anchor="middle" transform="rotate(-90 447.00 536.40)"  stroke="#050505" stroke-width="0.22">NIR</text>
<path d="M430.4,535.6 Q426,534.3 423.0,534.7 Q421.5,535.2 420.9,537.0" fill="none" stroke="#b71c24" stroke-width="2.9" stroke-linejoin="round" stroke-linecap="round"/>
<path d="M419.6,537.6 L420.7,548.8 L422.0,537.2 Z" fill="#b71c24" stroke="#b71c24" stroke-width="0.8" stroke-linejoin="round" stroke-linecap="round"/>
<path d="M414.9,537.8 L417.6,521.9 L418.9,538.4 Z" fill="#b71c24" stroke="#b71c24" stroke-width="0.8" stroke-linejoin="round" stroke-linecap="round"/>
<path d="M419.3,537.9 L418.7,538.2" fill="none" stroke="#b71c24" stroke-width="2.6" stroke-linejoin="round" stroke-linecap="round"/>
<path d="M415.0,536.6 L414.0,535.3 L412.4,537.4 L411.2,532.6 L408.7,537.2 L406.9,533.0" fill="none" stroke="#b71c24" stroke-width="2.5" stroke-linejoin="round" stroke-linecap="round"/>
<path d="M406.7,532.1 L397.7,537.3 L407.8,541.0 L406.2,536.6 Z" fill="#b71c24" stroke="#b71c24" stroke-width="0.7" stroke-linejoin="round" stroke-linecap="round"/>
<line x1="507.70" y1="576.50" x2="507.70" y2="503.90" stroke="#e3141e" stroke-width="2.6" stroke-linecap="butt"/>
<path d="M503.20,504.40 L512.20,504.40 L507.70,497.20 Z" fill="#e3141e" stroke="none" stroke-width="1" />
<defs><radialGradient id="ballg" cx="0.38" cy="0.32" r="0.7"><stop offset="0" stop-color="#e65a55"/><stop offset="0.45" stop-color="#c81e24"/><stop offset="1" stop-color="#8e0f15"/></radialGradient><radialGradient id="holeg" cx="0.5" cy="0.5" r="0.6"><stop offset="0" stop-color="#a9b9da"/><stop offset="1" stop-color="#7f95c2"/></radialGradient></defs>
<circle cx="507.7" cy="486.0" r="8.3" fill="#c41d23" stroke="#8a1218" stroke-width="1.2"/>
<path d="M501.5,483.0 Q503.5,479.2 508.5,478.6" fill="none" stroke="#e9565a" stroke-width="1.3" stroke-linecap="round" opacity="0.8"/>
<circle cx="507.6" cy="586.3" r="8.1" fill="#8ea2c9" stroke="#2b4a8e" stroke-width="2.2"/>
<line x1="499.50" y1="586.30" x2="515.70" y2="586.30" stroke="#2b4a8e" stroke-width="1.9" stroke-linecap="butt"/>
<line x1="507.60" y1="578.20" x2="507.60" y2="594.40" stroke="#2b4a8e" stroke-width="1.9" stroke-linecap="butt"/>
<text x="266.70" y="604.40" font-size="10" font-weight="bold" fill="#050505"  stroke="#050505" stroke-width="0.22"></text>
<text x="453.40" y="604.40" font-size="10" font-weight="bold" fill="#050505" text-anchor="middle"  stroke="#050505" stroke-width="0.22">HS-Pt-CDs</text>
<text x="516.8" y="577.8" font-size="10" font-weight="bold" fill="#1a7cc1" stroke="#1a7cc1" stroke-width="0.22">Hole<tspan font-size="7" dy="-3.8">+</tspan></text>
<path d="M531.0,563.9 C540,558.8 548,557.8 556,558.1 C566,558.6 576,563 585.6,571.4" fill="none" stroke="#2b4f8c" stroke-width="2.1" />
<path d="M583.4,574.2 L589.4,568.8 L590.2,577.2 Z" fill="#2b4f8c" stroke="none" stroke-width="1" />
<text x="523.8" y="505.6" font-size="10" font-weight="bold" fill="#e3141e" stroke="#e3141e" stroke-width="0.22">e<tspan font-size="7" dy="-3.8">−</tspan></text>
<path d="M532.7,505.9 C540,511.5 549,513.3 558,512.8 C570,511.8 580,506.5 590.5,499.8" fill="none" stroke="#e3141e" stroke-width="2.3" />
<path d="M587.6,497.6 L594.4,496.2 L591.6,503.0 Z" fill="#e3141e" stroke="none" stroke-width="1" />
<text x="561.30" y="469.70" font-size="10" font-weight="bold" fill="#050505" textLength="111.6" lengthAdjust="spacingAndGlyphs"  stroke="#050505" stroke-width="0.22">Photocatalytic process</text>
<text x="556.7" y="493.2" font-size="10" font-weight="bold" fill="#050505" stroke="#050505" stroke-width="0.22">Pt(IV) + <tspan fill="#e3141e" stroke="#e3141e" stroke-width="0.22">e</tspan><tspan fill="#e3141e" font-size="7" dy="-3.8" stroke="#e3141e" stroke-width="0.22">−</tspan></text>
<line x1="608.80" y1="490.00" x2="636.50" y2="490.00" stroke="#6a3b9c" stroke-width="3.2" stroke-linecap="butt"/>
<path d="M635.5,485.6 L644.8,490.0 L635.5,494.4 Z" fill="#6a3b9c" stroke="none" stroke-width="1" />
<text x="652.60" y="493.20" font-size="10" font-weight="bold" fill="#050505"  stroke="#050505" stroke-width="0.22">Pt(II)</text>
<text x="562.3" y="591.0" font-size="10" font-weight="bold" fill="#050505" stroke="#050505" stroke-width="0.22">H<tspan font-size="7" dy="2.4">2</tspan><tspan dy="-2.4">O + </tspan><tspan fill="#1a7cc1" stroke="#1a7cc1" stroke-width="0.22">h</tspan><tspan fill="#1a7cc1" font-size="7" dy="-3.8" stroke="#1a7cc1" stroke-width="0.22">+</tspan></text>
<line x1="608.10" y1="586.70" x2="636.00" y2="586.70" stroke="#6a3b9c" stroke-width="3.2" stroke-linecap="butt"/>
<path d="M635.0,582.3 L644.3,586.7 L635.0,591.1 Z" fill="#6a3b9c" stroke="none" stroke-width="1" />
<text x="648.5" y="591.0" font-size="10" font-weight="bold" fill="#050505" stroke="#050505" stroke-width="0.22">·OH+H<tspan font-size="7" dy="-3.8">+</tspan></text>
</g></svg>
</body></html>
